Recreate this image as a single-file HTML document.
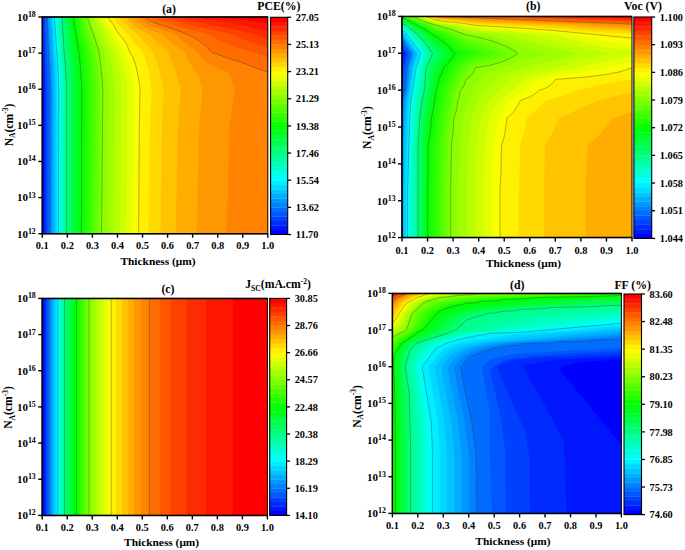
<!DOCTYPE html>
<html><head><meta charset="utf-8"><title>Contour plots</title>
<style>html,body{margin:0;padding:0;background:#fff;}svg{display:block;}</style></head>
<body><svg width="685" height="550" viewBox="0 0 685 550">
<rect width="685" height="550" fill="#fff"/>
<g><rect x="42.30" y="17.00" width="225.50" height="216.70" fill="#0000ff"/>
<path d="M42.3 17.0L267.8 17.0L267.8 233.7L43.4 233.7L43.2 89.5L42.3 56.5L42.3 17.0Z" fill="#0016ff" fill-rule="evenodd"/>
<path d="M42.4 17.0L267.8 17.0L267.8 233.7L44.6 233.7L44.6 89.5L42.4 17.0Z" fill="#002bff" fill-rule="evenodd"/>
<path d="M43.6 17.0L267.8 17.0L267.8 233.7L45.9 233.7L45.9 89.5L43.6 17.0Z" fill="#0041ff" fill-rule="evenodd"/>
<path d="M44.7 17.0L267.8 17.0L267.8 233.7L47.2 233.7L47.2 89.0L44.7 17.0Z" fill="#0057ff" fill-rule="evenodd"/>
<path d="M45.9 17.0L267.8 17.0L267.8 233.7L48.4 233.7L48.6 89.0L45.9 17.0Z" fill="#006dff" fill-rule="evenodd"/>
<path d="M47.0 17.0L267.8 17.0L267.8 233.7L49.7 233.7L49.9 89.0L47.0 17.0Z" fill="#0082ff" fill-rule="evenodd"/>
<path d="M48.2 17.0L267.8 17.0L267.8 233.7L51.2 233.7L51.4 89.0L48.2 17.0Z" fill="#0098ff" fill-rule="evenodd"/>
<path d="M49.5 17.0L267.8 17.0L267.8 233.7L52.6 233.7L52.9 89.0L52.3 72.0L49.5 17.0Z" fill="#00aeff" fill-rule="evenodd"/>
<path d="M50.7 17.0L267.8 17.0L267.8 233.7L54.1 233.7L54.3 89.0L53.8 72.0L50.7 17.0Z" fill="#00c3ff" fill-rule="evenodd"/>
<path d="M51.9 17.0L267.8 17.0L267.8 233.7L55.6 233.7L55.8 89.0L55.2 72.0L51.9 17.0Z" fill="#00d9ff" fill-rule="evenodd"/>
<path d="M53.2 17.0L267.8 17.0L267.8 233.7L57.0 233.7L57.3 89.0L56.7 72.0L53.2 17.0Z" fill="#00efff" fill-rule="evenodd"/>
<path d="M54.4 17.0L267.8 17.0L267.8 233.7L58.5 233.7L58.8 89.0L58.2 72.0L54.4 17.0Z" fill="#00fffa" fill-rule="evenodd"/>
<path d="M55.7 17.0L267.8 17.0L267.8 233.7L59.8 233.7L60.1 89.0L59.4 72.0L55.7 17.0Z" fill="#00ffe4" fill-rule="evenodd"/>
<path d="M56.9 17.0L267.8 17.0L267.8 233.7L61.2 233.7L61.4 89.0L60.7 72.0L56.9 17.0Z" fill="#00ffce" fill-rule="evenodd"/>
<path d="M58.2 17.0L267.8 17.0L267.8 233.7L62.5 233.7L62.7 89.0L62.0 72.5L58.2 17.0Z" fill="#00ffb8" fill-rule="evenodd"/>
<path d="M59.5 17.0L267.8 17.0L267.8 233.7L63.9 233.7L64.0 89.0L63.3 72.5L59.5 17.0Z" fill="#00ffa3" fill-rule="evenodd"/>
<path d="M60.7 17.0L267.8 17.0L267.8 233.7L65.2 233.7L65.3 89.0L64.5 72.5L62.8 52.5L60.7 17.0Z" fill="#00ff8d" fill-rule="evenodd"/>
<path d="M62.0 17.0L267.8 17.0L267.8 233.7L66.6 233.7L66.6 89.0L65.5 66.5L64.1 52.5L62.0 17.0Z" fill="#00ff77" fill-rule="evenodd"/>
<path d="M63.8 17.0L267.8 17.0L267.8 233.7L69.0 233.7L69.1 89.0L68.3 72.5L63.8 17.0Z" fill="#00ff62" fill-rule="evenodd"/>
<path d="M65.6 17.0L267.8 17.0L267.8 233.7L71.5 233.7L71.6 89.0L70.7 72.0L65.6 17.0Z" fill="#00ff4c" fill-rule="evenodd"/>
<path d="M67.5 17.0L267.8 17.0L267.8 233.7L74.0 233.7L74.2 89.0L73.3 72.5L71.5 52.5L67.5 17.0Z" fill="#00ff36" fill-rule="evenodd"/>
<path d="M69.3 17.0L267.8 17.0L267.8 233.7L76.4 233.7L76.7 89.0L75.8 72.5L74.0 52.5L69.3 17.0Z" fill="#00ff21" fill-rule="evenodd"/>
<path d="M71.1 17.0L267.8 17.0L267.8 233.7L78.9 233.7L79.2 89.0L78.3 72.5L76.5 52.5L71.1 17.0Z" fill="#00ff0b" fill-rule="evenodd"/>
<path d="M73.0 17.0L267.8 17.0L267.8 233.7L81.4 233.7L81.8 89.0L80.5 68.5L79.0 52.5L73.0 17.0Z" fill="#0bff00" fill-rule="evenodd"/>
<path d="M75.3 17.0L267.8 17.0L267.8 233.7L84.7 233.7L85.2 89.0L84.2 72.5L82.3 52.5L75.3 17.0Z" fill="#21ff00" fill-rule="evenodd"/>
<path d="M77.7 17.0L267.8 17.0L267.8 233.7L88.1 233.7L88.8 89.0L87.7 72.5L85.6 52.5L77.7 17.0Z" fill="#36ff00" fill-rule="evenodd"/>
<path d="M80.0 17.0L267.8 17.0L267.8 233.7L91.4 233.7L92.3 89.0L91.2 72.5L89.0 52.5L80.0 17.0Z" fill="#4cff00" fill-rule="evenodd"/>
<path d="M82.3 17.0L267.8 17.0L267.8 233.7L94.8 233.7L95.8 89.0L94.6 72.5L92.3 52.5L82.3 17.0Z" fill="#62ff00" fill-rule="evenodd"/>
<path d="M84.7 17.0L267.8 17.0L267.8 233.7L98.2 233.7L99.3 89.0L98.1 72.5L95.7 52.5L84.7 17.0Z" fill="#77ff00" fill-rule="evenodd"/>
<path d="M87.1 17.0L267.8 17.0L267.8 233.7L101.6 233.7L102.9 89.5L102.4 81.5L100.7 64.0L99.1 52.5L95.7 41.0L87.1 17.0Z" fill="#8dff00" fill-rule="evenodd"/>
<path d="M90.4 17.0L267.8 17.0L267.8 233.7L107.7 233.7L109.0 89.0L107.5 72.5L104.2 52.5L100.5 43.5L97.3 34.0L93.6 26.0L90.4 17.0Z" fill="#a3ff00" fill-rule="evenodd"/>
<path d="M93.7 17.0L267.8 17.0L267.8 233.7L113.9 233.7L115.2 89.0L113.4 72.5L109.3 52.5L105.3 43.7L101.6 34.0L97.4 26.0L93.7 17.0Z" fill="#b8ff00" fill-rule="evenodd"/>
<path d="M97.0 17.0L267.8 17.0L267.8 233.7L120.1 233.7L121.4 89.0L119.3 72.5L114.5 52.5L109.9 43.5L105.8 34.0L101.2 26.0L97.0 17.0Z" fill="#ceff00" fill-rule="evenodd"/>
<path d="M100.4 17.0L267.8 17.0L267.8 233.7L126.2 233.7L127.6 89.0L125.2 72.5L119.6 52.5L114.5 43.5L110.1 34.0L104.9 26.0L100.4 17.0Z" fill="#e4ff00" fill-rule="evenodd"/>
<path d="M103.7 17.0L267.8 17.0L267.8 233.7L132.4 233.7L133.1 125.0L133.7 89.0L131.2 72.5L124.7 52.5L121.8 47.0L118.3 41.9L113.2 32.0L106.8 22.9L103.7 17.0Z" fill="#faff00" fill-rule="evenodd"/>
<path d="M107.1 17.0L267.8 17.0L267.8 233.7L138.6 233.7L139.3 125.0L140.0 89.5L139.1 81.5L136.0 66.5L134.4 61.0L132.3 56.1L129.8 52.4L126.7 44.5L123.3 39.0L118.8 34.1L112.8 23.9L107.1 17.0Z" fill="#ffef00" fill-rule="evenodd"/>
<path d="M113.2 17.0L267.8 17.0L267.8 233.7L148.4 233.7L150.1 125.0L151.6 89.5L149.1 72.5L143.5 52.5L135.3 44.4L131.7 39.5L128.6 34.0L123.5 30.0L119.1 25.5L113.2 17.0Z" fill="#ffd900" fill-rule="evenodd"/>
<path d="M119.3 17.0L267.8 17.0L267.8 233.7L160.5 233.7L162.1 125.0L163.6 89.5L162.4 82.5L158.2 65.5L153.4 52.5L145.6 43.0L137.3 34.0L131.8 30.0L126.6 25.5L122.8 21.5L119.3 17.0Z" fill="#ffc300" fill-rule="evenodd"/>
<path d="M125.4 17.0L267.8 17.0L267.8 233.7L175.7 233.7L178.1 125.0L180.6 89.0L176.2 72.5L168.3 52.5L158.2 43.5L148.5 34.0L142.8 31.4L137.3 28.2L131.1 23.0L125.4 17.0Z" fill="#ffae00" fill-rule="evenodd"/>
<path d="M131.6 17.0L267.8 17.0L267.8 233.7L196.4 233.7L199.2 125.0L202.3 89.5L201.0 84.5L198.8 78.0L196.3 72.5L192.8 68.1L189.8 63.5L184.5 52.5L172.7 44.0L162.1 34.0L150.8 30.3L143.8 26.9L137.3 22.4L131.6 17.0Z" fill="#ff9800" fill-rule="evenodd"/>
<path d="M137.7 17.0L267.8 17.0L267.8 233.7L226.1 233.7L227.9 193.0L229.3 125.0L232.2 109.5L234.6 89.5L231.8 81.0L228.3 72.5L211.8 65.6L208.5 63.5L202.8 58.5L196.9 51.5L182.1 40.5L174.5 34.0L150.8 25.8L143.8 22.0L137.7 17.0Z" fill="#ff8200" fill-rule="evenodd"/>
<path d="M143.8 17.0L267.8 17.0L267.8 72.4L243.3 63.2L211.8 52.5L207.1 47.5L202.3 43.3L196.8 39.4L191.0 36.0L181.6 32.0L151.3 21.6L143.8 17.0Z" fill="#ff6d00" fill-rule="evenodd"/>
<path d="M151.1 17.0L267.8 17.0L267.8 57.2L254.6 52.5L240.8 49.1L229.3 45.2L218.3 40.1L209.0 34.0L186.8 29.1L162.8 21.3L151.1 17.0Z" fill="#ff5700" fill-rule="evenodd"/>
<path d="M163.1 17.0L267.8 17.0L267.8 47.1L257.3 44.3L247.8 41.3L238.8 37.7L231.2 34.0L186.8 24.2L163.1 17.0Z" fill="#ff4100" fill-rule="evenodd"/>
<path d="M178.1 17.0L267.8 17.0L267.8 39.2L253.3 34.0L244.8 31.7L197.3 21.9L178.1 17.0Z" fill="#ff2b00" fill-rule="evenodd"/>
<path d="M197.1 17.0L267.8 17.0L267.8 31.5L247.3 26.3L219.8 21.8L197.1 17.0Z" fill="#ff1600" fill-rule="evenodd"/>
<path d="M220.1 17.0L267.8 17.0L267.8 24.1L246.3 20.2L220.1 17.0Z" fill="#ff0000" fill-rule="evenodd"/>
<path d="M49.7 233.7L49.9 89.0L47.0 17.0" fill="none" stroke="#333" stroke-opacity="0.6" stroke-width="0.6"/>
<path d="M58.5 233.7L58.8 89.0L58.2 72.0L54.4 17.0" fill="none" stroke="#333" stroke-opacity="0.6" stroke-width="0.6"/>
<path d="M66.6 233.7L66.6 89.0L65.5 66.5L64.1 52.5L62.0 17.0" fill="none" stroke="#333" stroke-opacity="0.6" stroke-width="0.6"/>
<path d="M81.4 233.7L81.8 89.0L80.5 68.5L79.0 52.5L73.0 17.0" fill="none" stroke="#333" stroke-opacity="0.6" stroke-width="0.6"/>
<path d="M101.6 233.7L102.9 89.5L102.4 81.5L100.7 64.0L99.1 52.5L95.7 41.0L87.1 17.0" fill="none" stroke="#333" stroke-opacity="0.6" stroke-width="0.6"/>
<path d="M138.6 233.7L139.3 125.0L140.0 89.5L139.1 81.5L136.0 66.5L134.4 61.0L132.3 56.1L129.8 52.4L126.7 44.5L123.3 39.0L118.8 34.1L112.8 23.9L107.1 17.0" fill="none" stroke="#333" stroke-opacity="0.6" stroke-width="0.6"/>
<path d="M267.8 72.4L243.3 63.2L211.8 52.5L207.1 47.5L202.3 43.3L196.8 39.4L191.0 36.0L181.6 32.0L151.3 21.6L143.8 17.0" fill="none" stroke="#333" stroke-opacity="0.6" stroke-width="0.6"/></g>
<rect x="42.30" y="17.00" width="225.50" height="216.70" fill="none" stroke="#000" stroke-width="1"/>
<path d="M42.30 16.30 L42.30 233.70 L267.80 233.70" fill="none" stroke="#000" stroke-width="1.5"/>
<path d="M42.30 17.00 L267.80 17.00" fill="none" stroke="#000" stroke-width="1.5"/>
<path d="M38.30 233.70 L42.30 233.70" stroke="#000" stroke-width="1.4"/>
<text x="35.80" y="237.60" font-size="11.00" text-anchor="end" font-family="Liberation Serif" font-weight="bold">10<tspan font-size="7.9" dy="-3.9">12</tspan></text>
<path d="M38.30 197.58 L42.30 197.58" stroke="#000" stroke-width="1.4"/>
<text x="35.80" y="201.48" font-size="11.00" text-anchor="end" font-family="Liberation Serif" font-weight="bold">10<tspan font-size="7.9" dy="-3.9">13</tspan></text>
<path d="M38.30 161.47 L42.30 161.47" stroke="#000" stroke-width="1.4"/>
<text x="35.80" y="165.37" font-size="11.00" text-anchor="end" font-family="Liberation Serif" font-weight="bold">10<tspan font-size="7.9" dy="-3.9">14</tspan></text>
<path d="M38.30 125.35 L42.30 125.35" stroke="#000" stroke-width="1.4"/>
<text x="35.80" y="129.25" font-size="11.00" text-anchor="end" font-family="Liberation Serif" font-weight="bold">10<tspan font-size="7.9" dy="-3.9">15</tspan></text>
<path d="M38.30 89.23 L42.30 89.23" stroke="#000" stroke-width="1.4"/>
<text x="35.80" y="93.13" font-size="11.00" text-anchor="end" font-family="Liberation Serif" font-weight="bold">10<tspan font-size="7.9" dy="-3.9">16</tspan></text>
<path d="M38.30 53.12 L42.30 53.12" stroke="#000" stroke-width="1.4"/>
<text x="35.80" y="57.02" font-size="11.00" text-anchor="end" font-family="Liberation Serif" font-weight="bold">10<tspan font-size="7.9" dy="-3.9">17</tspan></text>
<path d="M38.30 17.00 L42.30 17.00" stroke="#000" stroke-width="1.4"/>
<text x="35.80" y="20.90" font-size="11.00" text-anchor="end" font-family="Liberation Serif" font-weight="bold">10<tspan font-size="7.9" dy="-3.9">18</tspan></text>
<path d="M42.30 233.70 L42.30 237.70" stroke="#000" stroke-width="1.4"/>
<text x="42.30" y="249.10" font-size="10.40" text-anchor="middle" font-family="Liberation Serif" font-weight="bold">0.1</text>
<path d="M67.36 233.70 L67.36 237.70" stroke="#000" stroke-width="1.4"/>
<text x="67.36" y="249.10" font-size="10.40" text-anchor="middle" font-family="Liberation Serif" font-weight="bold">0.2</text>
<path d="M92.41 233.70 L92.41 237.70" stroke="#000" stroke-width="1.4"/>
<text x="92.41" y="249.10" font-size="10.40" text-anchor="middle" font-family="Liberation Serif" font-weight="bold">0.3</text>
<path d="M117.47 233.70 L117.47 237.70" stroke="#000" stroke-width="1.4"/>
<text x="117.47" y="249.10" font-size="10.40" text-anchor="middle" font-family="Liberation Serif" font-weight="bold">0.4</text>
<path d="M142.52 233.70 L142.52 237.70" stroke="#000" stroke-width="1.4"/>
<text x="142.52" y="249.10" font-size="10.40" text-anchor="middle" font-family="Liberation Serif" font-weight="bold">0.5</text>
<path d="M167.58 233.70 L167.58 237.70" stroke="#000" stroke-width="1.4"/>
<text x="167.58" y="249.10" font-size="10.40" text-anchor="middle" font-family="Liberation Serif" font-weight="bold">0.6</text>
<path d="M192.63 233.70 L192.63 237.70" stroke="#000" stroke-width="1.4"/>
<text x="192.63" y="249.10" font-size="10.40" text-anchor="middle" font-family="Liberation Serif" font-weight="bold">0.7</text>
<path d="M217.69 233.70 L217.69 237.70" stroke="#000" stroke-width="1.4"/>
<text x="217.69" y="249.10" font-size="10.40" text-anchor="middle" font-family="Liberation Serif" font-weight="bold">0.8</text>
<path d="M242.74 233.70 L242.74 237.70" stroke="#000" stroke-width="1.4"/>
<text x="242.74" y="249.10" font-size="10.40" text-anchor="middle" font-family="Liberation Serif" font-weight="bold">0.9</text>
<path d="M267.80 233.70 L267.80 237.70" stroke="#000" stroke-width="1.4"/>
<text x="267.80" y="249.10" font-size="10.40" text-anchor="middle" font-family="Liberation Serif" font-weight="bold">1.0</text>
<text x="158.00" y="264.50" font-size="11.40" text-anchor="middle" font-family="Liberation Serif" font-weight="bold">Thickness (μm)</text>
<text transform="translate(12.70 125.00) rotate(-90)" x="0" y="0" font-size="11.6" text-anchor="middle" font-family="Liberation Serif" font-weight="bold">N<tspan font-size="7.6" dy="2.6">A</tspan><tspan dy="-2.6">(cm</tspan><tspan font-size="7.6" dy="-4.6">-3</tspan><tspan dy="4.6">)</tspan></text>
<text x="162.20" y="12.90" font-size="11.80" text-anchor="start" font-family="Liberation Serif" font-weight="bold">(a)</text>
<rect x="270.60" y="229.97" width="17.10" height="4.82" fill="#0000ff"/>
<rect x="270.60" y="225.45" width="17.10" height="4.82" fill="#0016ff"/>
<rect x="270.60" y="220.93" width="17.10" height="4.82" fill="#002bff"/>
<rect x="270.60" y="216.40" width="17.10" height="4.82" fill="#0041ff"/>
<rect x="270.60" y="211.88" width="17.10" height="4.82" fill="#0057ff"/>
<rect x="270.60" y="207.35" width="17.10" height="4.82" fill="#006dff"/>
<rect x="270.60" y="202.82" width="17.10" height="4.82" fill="#0082ff"/>
<rect x="270.60" y="198.30" width="17.10" height="4.82" fill="#0098ff"/>
<rect x="270.60" y="193.78" width="17.10" height="4.82" fill="#00aeff"/>
<rect x="270.60" y="189.25" width="17.10" height="4.82" fill="#00c3ff"/>
<rect x="270.60" y="184.73" width="17.10" height="4.82" fill="#00d9ff"/>
<rect x="270.60" y="180.20" width="17.10" height="4.82" fill="#00efff"/>
<rect x="270.60" y="175.68" width="17.10" height="4.82" fill="#00fffa"/>
<rect x="270.60" y="171.15" width="17.10" height="4.82" fill="#00ffe4"/>
<rect x="270.60" y="166.62" width="17.10" height="4.82" fill="#00ffce"/>
<rect x="270.60" y="162.10" width="17.10" height="4.82" fill="#00ffb8"/>
<rect x="270.60" y="157.57" width="17.10" height="4.82" fill="#00ffa3"/>
<rect x="270.60" y="153.05" width="17.10" height="4.82" fill="#00ff8d"/>
<rect x="270.60" y="148.53" width="17.10" height="4.82" fill="#00ff77"/>
<rect x="270.60" y="144.00" width="17.10" height="4.82" fill="#00ff62"/>
<rect x="270.60" y="139.48" width="17.10" height="4.82" fill="#00ff4c"/>
<rect x="270.60" y="134.95" width="17.10" height="4.82" fill="#00ff36"/>
<rect x="270.60" y="130.43" width="17.10" height="4.82" fill="#00ff21"/>
<rect x="270.60" y="125.90" width="17.10" height="4.82" fill="#00ff0b"/>
<rect x="270.60" y="121.38" width="17.10" height="4.82" fill="#0bff00"/>
<rect x="270.60" y="116.85" width="17.10" height="4.82" fill="#21ff00"/>
<rect x="270.60" y="112.33" width="17.10" height="4.82" fill="#36ff00"/>
<rect x="270.60" y="107.80" width="17.10" height="4.82" fill="#4cff00"/>
<rect x="270.60" y="103.28" width="17.10" height="4.82" fill="#62ff00"/>
<rect x="270.60" y="98.75" width="17.10" height="4.82" fill="#77ff00"/>
<rect x="270.60" y="94.23" width="17.10" height="4.82" fill="#8dff00"/>
<rect x="270.60" y="89.70" width="17.10" height="4.82" fill="#a3ff00"/>
<rect x="270.60" y="85.18" width="17.10" height="4.82" fill="#b8ff00"/>
<rect x="270.60" y="80.65" width="17.10" height="4.82" fill="#ceff00"/>
<rect x="270.60" y="76.13" width="17.10" height="4.82" fill="#e4ff00"/>
<rect x="270.60" y="71.60" width="17.10" height="4.82" fill="#faff00"/>
<rect x="270.60" y="67.08" width="17.10" height="4.82" fill="#ffef00"/>
<rect x="270.60" y="62.55" width="17.10" height="4.82" fill="#ffd900"/>
<rect x="270.60" y="58.03" width="17.10" height="4.82" fill="#ffc300"/>
<rect x="270.60" y="53.50" width="17.10" height="4.82" fill="#ffae00"/>
<rect x="270.60" y="48.98" width="17.10" height="4.82" fill="#ff9800"/>
<rect x="270.60" y="44.45" width="17.10" height="4.82" fill="#ff8200"/>
<rect x="270.60" y="39.93" width="17.10" height="4.82" fill="#ff6d00"/>
<rect x="270.60" y="35.40" width="17.10" height="4.82" fill="#ff5700"/>
<rect x="270.60" y="30.88" width="17.10" height="4.82" fill="#ff4100"/>
<rect x="270.60" y="26.35" width="17.10" height="4.82" fill="#ff2b00"/>
<rect x="270.60" y="21.83" width="17.10" height="4.82" fill="#ff1600"/>
<rect x="270.60" y="17.30" width="17.10" height="4.82" fill="#ff0000"/>
<rect x="270.60" y="17.30" width="17.10" height="217.20" fill="none" stroke="#000" stroke-width="1.1"/>
<path d="M287.70 17.30 L291.10 17.30" stroke="#000" stroke-width="1.3"/>
<text x="295.80" y="21.00" font-size="10.30" text-anchor="start" font-family="Liberation Serif" font-weight="bold">27.05</text>
<path d="M287.70 44.45 L291.10 44.45" stroke="#000" stroke-width="1.3"/>
<text x="295.80" y="48.15" font-size="10.30" text-anchor="start" font-family="Liberation Serif" font-weight="bold">25.13</text>
<path d="M287.70 71.60 L291.10 71.60" stroke="#000" stroke-width="1.3"/>
<text x="295.80" y="75.30" font-size="10.30" text-anchor="start" font-family="Liberation Serif" font-weight="bold">23.21</text>
<path d="M287.70 98.75 L291.10 98.75" stroke="#000" stroke-width="1.3"/>
<text x="295.80" y="102.45" font-size="10.30" text-anchor="start" font-family="Liberation Serif" font-weight="bold">21.29</text>
<path d="M287.70 125.90 L291.10 125.90" stroke="#000" stroke-width="1.3"/>
<text x="295.80" y="129.60" font-size="10.30" text-anchor="start" font-family="Liberation Serif" font-weight="bold">19.38</text>
<path d="M287.70 153.05 L291.10 153.05" stroke="#000" stroke-width="1.3"/>
<text x="295.80" y="156.75" font-size="10.30" text-anchor="start" font-family="Liberation Serif" font-weight="bold">17.46</text>
<path d="M287.70 180.20 L291.10 180.20" stroke="#000" stroke-width="1.3"/>
<text x="295.80" y="183.90" font-size="10.30" text-anchor="start" font-family="Liberation Serif" font-weight="bold">15.54</text>
<path d="M287.70 207.35 L291.10 207.35" stroke="#000" stroke-width="1.3"/>
<text x="295.80" y="211.05" font-size="10.30" text-anchor="start" font-family="Liberation Serif" font-weight="bold">13.62</text>
<path d="M287.70 234.50 L291.10 234.50" stroke="#000" stroke-width="1.3"/>
<text x="295.80" y="238.20" font-size="10.30" text-anchor="start" font-family="Liberation Serif" font-weight="bold">11.70</text>
<text x="278.90" y="10.10" font-size="11.80" text-anchor="middle" font-family="Liberation Serif" font-weight="bold">PCE(%)</text>
<g><rect x="402.00" y="16.40" width="230.00" height="221.20" fill="#0000ff"/>
<path d="M402.0 16.4L632.0 16.4L632.0 237.6L402.0 237.6L402.0 57.2L402.9 53.4L402.0 51.8L402.0 16.4Z" fill="#0016ff" fill-rule="evenodd"/>
<path d="M402.0 16.4L632.0 16.4L632.0 237.6L402.0 237.6L402.0 63.9L404.4 53.4L402.0 49.3L402.0 16.4Z" fill="#002bff" fill-rule="evenodd"/>
<path d="M402.0 16.4L632.0 16.4L632.0 237.6L402.0 237.6L402.0 73.5L402.6 67.9L406.0 53.4L402.0 46.8L402.0 16.4Z" fill="#0041ff" fill-rule="evenodd"/>
<path d="M402.0 16.4L632.0 16.4L632.0 237.6L402.0 237.6L402.0 86.7L404.1 67.9L407.6 53.4L402.0 44.2L402.0 16.4Z" fill="#0057ff" fill-rule="evenodd"/>
<path d="M402.0 16.4L632.0 16.4L632.0 237.6L402.0 237.6L402.0 95.1L403.4 90.4L405.6 67.9L409.1 53.4L402.0 41.7L402.0 16.4Z" fill="#006dff" fill-rule="evenodd"/>
<path d="M402.0 16.4L632.0 16.4L632.0 237.6L402.0 237.6L402.0 104.7L402.3 100.4L405.2 90.4L407.1 67.9L410.7 53.4L406.0 46.4L402.0 39.2L402.0 16.4Z" fill="#0082ff" fill-rule="evenodd"/>
<path d="M402.0 16.4L632.0 16.4L632.0 237.6L402.0 237.6L402.0 131.8L402.7 117.4L403.7 100.4L406.5 90.4L408.6 67.9L412.3 53.4L406.8 45.4L402.0 36.6L402.0 16.4Z" fill="#0098ff" fill-rule="evenodd"/>
<path d="M402.0 16.4L632.0 16.4L632.0 237.6L402.0 237.6L402.0 176.7L402.8 144.9L405.2 100.4L407.7 90.4L410.1 67.9L414.0 53.4L407.0 43.4L402.0 34.5L402.0 16.4Z" fill="#00aeff" fill-rule="evenodd"/>
<path d="M402.0 16.4L632.0 16.4L632.0 237.6L403.1 237.6L403.1 189.9L404.3 144.9L406.6 100.4L408.9 90.4L411.6 67.9L415.7 53.4L407.0 41.2L403.6 34.9L402.0 33.2L402.0 16.4Z" fill="#00c3ff" fill-rule="evenodd"/>
<path d="M402.0 16.4L632.0 16.4L632.0 237.6L404.6 237.6L404.6 189.9L405.9 144.9L406.9 117.9L408.1 100.4L410.1 90.4L413.2 67.9L417.3 53.4L407.0 38.9L404.8 34.9L402.0 32.0L402.0 16.4Z" fill="#00d9ff" fill-rule="evenodd"/>
<path d="M402.0 16.4L632.0 16.4L632.0 237.6L406.1 237.6L406.1 189.9L408.4 117.9L409.5 100.4L414.7 67.9L419.0 53.4L406.0 34.9L402.0 30.8L402.0 16.4Z" fill="#00efff" fill-rule="evenodd"/>
<path d="M402.0 16.4L632.0 16.4L632.0 237.6L407.6 237.6L407.6 189.9L409.8 117.9L411.0 100.4L416.2 67.9L420.7 53.4L409.0 37.0L405.5 32.9L402.0 29.6L402.0 16.4Z" fill="#00fffa" fill-rule="evenodd"/>
<path d="M402.0 16.4L632.0 16.4L632.0 237.6L409.3 237.6L409.3 189.9L410.4 144.9L411.5 117.2L412.8 100.4L417.8 67.9L422.6 53.4L409.1 34.9L402.0 28.4L402.0 16.4Z" fill="#00ffe4" fill-rule="evenodd"/>
<path d="M402.0 16.4L632.0 16.4L632.0 237.6L411.1 237.6L411.1 189.9L411.9 144.9L413.2 117.4L414.7 100.4L416.7 88.9L419.5 67.9L424.6 53.4L411.0 34.9L402.0 27.2L402.0 16.4Z" fill="#00ffce" fill-rule="evenodd"/>
<path d="M402.0 16.4L632.0 16.4L632.0 237.6L412.8 237.6L412.8 189.9L413.4 145.4L414.8 117.9L416.5 100.4L418.5 90.4L421.1 67.9L426.6 53.4L412.8 34.9L402.0 26.0L402.0 16.4Z" fill="#00ffb8" fill-rule="evenodd"/>
<path d="M402.0 16.4L632.0 16.4L632.0 237.6L414.5 237.6L415.0 145.4L416.5 117.9L418.3 100.4L420.4 90.4L422.7 67.9L425.4 60.4L428.5 53.4L424.5 47.5L414.7 34.9L404.5 26.6L402.0 24.9L402.0 16.4Z" fill="#00ffa3" fill-rule="evenodd"/>
<path d="M402.0 16.4L632.0 16.4L632.0 237.6L416.3 237.6L416.5 144.9L418.1 117.9L420.2 100.4L422.4 90.4L424.4 67.9L430.5 53.4L425.4 45.9L416.5 34.9L405.3 25.9L402.0 24.0L402.0 16.4Z" fill="#00ff8d" fill-rule="evenodd"/>
<path d="M402.0 16.4L632.0 16.4L632.0 237.6L418.0 237.6L418.0 144.9L419.8 117.9L422.0 100.4L424.4 90.4L426.0 67.9L429.5 61.4L432.5 53.4L426.0 43.9L418.4 34.9L406.4 25.4L402.0 23.0L402.0 16.4Z" fill="#00ff77" fill-rule="evenodd"/>
<path d="M402.0 16.4L632.0 16.4L632.0 237.6L419.6 237.6L419.7 144.9L421.7 117.9L424.1 100.4L426.3 90.4L427.4 78.4L428.9 67.9L432.5 59.8L436.2 53.4L432.5 50.2L427.0 42.4L420.8 34.9L408.3 25.4L402.0 22.1L402.0 16.4Z" fill="#00ff62" fill-rule="evenodd"/>
<path d="M402.0 16.4L632.0 16.4L632.0 237.6L421.2 237.6L421.3 144.9L423.7 117.9L426.1 100.4L428.3 90.4L429.8 78.4L431.8 67.9L435.5 60.4L439.9 53.4L432.5 47.0L423.2 34.9L417.5 31.2L410.1 25.4L402.0 21.1L402.0 16.4Z" fill="#00ff4c" fill-rule="evenodd"/>
<path d="M402.0 16.4L632.0 16.4L632.0 237.6L422.8 237.6L423.0 144.9L425.6 117.9L428.2 100.4L432.1 78.9L434.3 69.4L434.9 67.4L438.0 61.7L443.7 53.4L439.0 49.0L432.5 43.9L425.6 34.9L417.5 29.8L412.0 25.4L402.0 20.1L402.0 16.4Z" fill="#00ff36" fill-rule="evenodd"/>
<path d="M402.0 16.4L632.0 16.4L632.0 237.6L424.4 237.6L424.7 144.9L427.6 117.9L433.0 85.4L436.3 71.9L437.6 67.9L440.0 63.7L443.5 58.3L447.4 53.4L441.0 47.2L432.5 40.8L427.4 34.4L417.5 28.3L413.8 25.4L402.0 19.2L402.0 16.4Z" fill="#00ff21" fill-rule="evenodd"/>
<path d="M402.0 16.4L632.0 16.4L632.0 237.6L426.0 237.6L426.3 144.9L429.6 117.4L434.4 88.9L438.3 73.9L440.5 67.9L442.5 64.6L448.0 57.9L451.2 53.4L444.5 46.5L439.0 42.1L433.0 38.1L430.4 34.9L428.5 33.4L414.0 24.4L402.0 18.2L402.0 16.4Z" fill="#00ff0b" fill-rule="evenodd"/>
<path d="M402.0 16.4L632.0 16.4L632.0 237.6L427.7 237.6L428.0 145.3L430.1 133.4L431.5 117.8L433.2 109.9L436.0 90.6L437.8 85.4L439.0 79.3L441.5 74.1L443.5 67.9L450.0 60.9L454.9 53.4L448.5 46.3L440.0 39.4L432.5 34.6L425.2 29.4L402.0 17.2L402.0 16.4Z" fill="#0bff00" fill-rule="evenodd"/>
<path d="M402.3 16.4L632.0 16.4L632.0 237.6L431.4 237.6L431.4 189.9L431.9 144.9L435.2 117.9L439.9 90.9L443.6 78.9L448.7 67.9L455.6 59.4L460.0 56.2L465.3 53.4L455.0 48.7L447.5 41.4L438.4 34.9L433.0 32.9L424.0 27.0L417.5 24.3L402.3 16.4Z" fill="#21ff00" fill-rule="evenodd"/>
<path d="M404.4 16.4L632.0 16.4L632.0 237.6L435.3 237.6L435.3 189.9L435.8 144.9L439.0 117.9L444.0 90.4L448.6 77.9L452.5 70.4L455.5 66.0L459.5 62.1L464.0 58.8L469.4 55.9L475.7 53.4L465.0 49.3L457.0 45.3L455.0 44.1L449.9 39.4L443.9 34.9L433.2 30.9L425.1 25.9L417.5 23.2L404.4 16.4Z" fill="#36ff00" fill-rule="evenodd"/>
<path d="M406.6 16.4L632.0 16.4L632.0 237.6L439.1 237.6L439.1 189.9L439.8 144.9L442.7 117.9L448.0 90.4L453.2 77.9L457.6 70.4L460.7 66.4L465.6 62.4L471.5 58.9L475.0 57.2L486.3 53.4L478.0 49.9L466.0 46.0L457.0 40.9L449.5 34.9L437.0 30.7L433.0 28.8L428.0 25.7L418.0 22.3L406.6 16.4Z" fill="#4cff00" fill-rule="evenodd"/>
<path d="M408.7 16.4L632.0 16.4L632.0 237.6L442.9 237.6L442.9 189.9L443.7 144.9L446.5 117.9L452.0 90.4L457.8 77.9L462.7 70.4L466.0 66.6L470.5 63.4L475.0 60.8L487.0 57.4L496.8 53.4L492.0 50.9L483.5 47.5L466.0 42.3L460.4 38.9L455.0 34.9L437.5 29.1L430.7 25.4L418.0 21.2L408.7 16.4Z" fill="#62ff00" fill-rule="evenodd"/>
<path d="M410.9 16.4L632.0 16.4L632.0 237.6L446.8 237.6L446.8 189.9L447.6 144.9L450.2 117.9L456.0 90.4L462.0 78.4L466.0 72.7L469.9 67.9L471.1 66.9L475.5 64.2L486.5 61.7L496.0 58.8L502.0 56.3L507.3 53.4L501.0 49.7L492.2 45.9L480.0 41.9L466.0 38.5L459.4 34.4L438.0 27.4L434.0 25.4L422.5 21.9L418.0 20.1L410.9 16.4Z" fill="#77ff00" fill-rule="evenodd"/>
<path d="M413.0 16.4L632.0 16.4L632.0 237.6L450.7 237.6L450.7 189.9L451.5 144.9L453.0 134.0L454.0 117.8L456.5 110.3L458.0 100.4L459.4 95.9L460.0 90.7L462.4 88.4L463.7 86.4L465.0 83.4L466.0 79.3L469.5 77.2L471.8 74.9L473.5 72.3L475.3 67.9L490.5 65.2L501.5 62.1L510.5 58.3L517.9 53.4L514.0 50.5L508.5 47.4L496.5 42.3L482.5 38.2L466.0 34.8L449.5 29.0L425.5 22.0L419.0 19.4L413.0 16.4Z" fill="#8dff00" fill-rule="evenodd"/>
<path d="M415.2 16.4L632.0 16.4L632.0 237.6L458.8 237.6L458.8 189.9L459.8 144.9L462.9 117.4L467.0 104.2L470.7 94.9L475.1 87.4L480.8 79.4L485.0 75.7L490.5 72.3L498.1 68.9L510.5 65.3L518.0 62.2L548.5 53.4L518.0 45.5L507.0 40.3L493.5 36.1L488.5 34.9L466.0 32.7L445.6 25.9L437.5 24.6L429.0 22.2L422.0 19.6L415.2 16.4Z" fill="#a3ff00" fill-rule="evenodd"/>
<path d="M417.3 16.4L632.0 16.4L632.0 237.6L467.1 237.6L467.1 189.9L468.2 144.9L471.6 117.9L475.0 108.9L478.7 100.4L483.0 94.3L495.7 79.4L502.9 75.4L509.0 72.9L516.0 70.6L527.0 67.9L555.6 59.4L579.4 53.4L557.0 48.5L541.0 44.6L524.9 39.9L510.3 34.9L477.0 32.3L466.0 30.5L450.5 25.5L438.5 24.0L434.3 22.9L425.5 20.0L417.3 16.4Z" fill="#b8ff00" fill-rule="evenodd"/>
<path d="M419.5 16.4L632.0 16.4L632.0 237.6L475.3 237.6L475.3 189.9L476.5 144.9L480.5 117.9L484.5 109.0L489.1 100.4L493.5 95.6L499.6 90.4L510.6 79.4L516.2 76.9L531.5 72.1L541.5 69.9L552.9 67.9L581.5 60.1L610.3 53.4L585.0 48.5L567.0 44.6L549.0 40.0L532.3 34.9L476.0 30.4L466.0 28.4L456.6 25.4L437.5 23.0L426.5 19.5L419.5 16.4Z" fill="#ceff00" fill-rule="evenodd"/>
<path d="M421.7 16.4L632.0 16.4L632.0 51.2L594.4 44.9L573.5 40.1L554.3 34.9L520.0 31.9L477.0 28.9L463.2 25.4L438.0 22.3L428.5 19.2L421.7 16.4ZM631.4 55.4L632.0 55.3L632.0 237.6L483.5 237.6L483.5 189.9L484.8 144.9L489.3 117.9L494.0 109.0L499.5 100.4L505.5 95.3L512.8 90.4L519.0 84.7L525.5 79.4L528.5 78.2L537.0 75.6L546.5 73.2L555.5 71.4L579.2 67.9L605.0 61.3L631.4 55.4Z" fill="#e4ff00" fill-rule="evenodd"/>
<path d="M423.8 16.4L632.0 16.4L632.0 44.7L598.0 40.2L576.4 34.9L572.1 34.4L528.0 30.5L477.0 27.2L469.8 25.4L463.5 24.4L440.0 21.9L432.0 19.6L423.8 16.4ZM630.4 61.9L632.0 61.5L632.0 237.6L491.8 237.6L491.8 189.9L493.2 144.9L498.1 117.9L503.5 109.1L509.8 100.4L517.5 95.1L525.9 90.4L535.4 82.9L540.4 79.4L541.7 78.9L555.5 75.3L577.0 73.1L594.5 70.3L630.4 61.9Z" fill="#faff00" fill-rule="evenodd"/>
<path d="M426.0 16.4L632.0 16.4L632.0 38.2L552.5 30.4L516.0 27.8L477.0 25.5L461.0 23.1L440.0 21.1L434.0 19.4L426.0 16.4ZM631.8 67.9L632.0 237.6L500.0 237.6L500.0 189.9L500.9 172.9L501.5 144.9L503.3 139.9L504.8 133.9L507.0 117.9L511.5 114.0L514.7 110.4L517.5 106.1L520.3 100.4L530.0 96.8L535.0 93.9L539.0 90.5L544.0 88.8L547.9 86.9L552.0 83.8L555.5 79.4L585.0 77.1L603.9 74.9L619.5 71.9L631.8 67.9Z" fill="#ffef00" fill-rule="evenodd"/>
<path d="M428.3 16.4L632.0 16.4L632.0 33.7L598.0 32.3L562.0 29.1L521.5 26.2L477.0 24.2L460.5 22.0L440.0 20.3L428.3 16.4ZM631.9 78.9L632.0 237.6L518.9 237.6L518.9 189.9L520.5 144.9L523.8 132.4L527.0 117.7L536.9 109.4L545.5 100.4L562.0 95.9L576.2 90.4L604.0 84.2L631.9 78.9Z" fill="#ffd900" fill-rule="evenodd"/>
<path d="M430.7 16.4L632.0 16.4L632.0 31.6L598.0 29.8L568.0 27.3L539.0 25.4L477.0 23.0L460.5 21.0L440.0 19.5L430.7 16.4ZM631.9 92.4L632.0 237.6L543.9 237.6L543.9 189.9L545.1 145.4L552.8 131.9L559.0 117.9L598.0 100.5L631.9 92.4Z" fill="#ffc300" fill-rule="evenodd"/>
<path d="M433.0 16.4L632.0 16.4L632.0 29.4L571.3 25.4L477.0 21.7L460.5 20.0L440.0 18.7L433.0 16.4ZM630.5 112.4L632.0 111.9L632.0 237.6L585.5 237.6L585.5 189.9L587.6 144.9L594.7 138.9L601.3 132.4L607.3 125.4L612.9 117.9L630.5 112.4Z" fill="#ffae00" fill-rule="evenodd"/>
<path d="M435.3 16.4L632.0 16.4L632.0 27.2L603.6 25.4L477.0 20.4L460.5 19.0L440.0 18.0L435.3 16.4Z" fill="#ff9800" fill-rule="evenodd"/>
<path d="M437.7 16.4L632.0 16.4L632.0 25.2L477.0 19.1L440.0 17.2L437.7 16.4Z" fill="#ff8200" fill-rule="evenodd"/>
<path d="M440.0 16.4L632.0 16.4L632.0 24.0L440.0 16.4Z" fill="#ff6d00" fill-rule="evenodd"/>
<path d="M472.0 16.4L632.0 16.4L632.0 22.7L472.0 16.4Z" fill="#ff5700" fill-rule="evenodd"/>
<path d="M504.0 16.4L632.0 16.4L632.0 21.5L504.0 16.4Z" fill="#ff4100" fill-rule="evenodd"/>
<path d="M536.0 16.4L632.0 16.4L632.0 20.2L536.0 16.4Z" fill="#ff2b00" fill-rule="evenodd"/>
<path d="M568.0 16.4L632.0 16.4L632.0 18.9L568.0 16.4Z" fill="#ff1600" fill-rule="evenodd"/>
<path d="M600.0 16.4L632.0 16.4L632.0 17.7L600.0 16.4Z" fill="#ff0000" fill-rule="evenodd"/>
<path d="M402.0 104.7L402.3 100.4L405.2 90.4L407.1 67.9L410.7 53.4L406.0 46.4L402.0 39.2" fill="none" stroke="#333" stroke-opacity="0.6" stroke-width="0.6"/>
<path d="M407.6 237.6L407.6 189.9L409.8 117.9L411.0 100.4L416.2 67.9L420.7 53.4L409.0 37.0L405.5 32.9L402.0 29.6" fill="none" stroke="#333" stroke-opacity="0.6" stroke-width="0.6"/>
<path d="M418.0 237.6L418.0 144.9L419.8 117.9L422.0 100.4L424.4 90.4L426.0 67.9L429.5 61.4L432.5 53.4L426.0 43.9L418.4 34.9L406.4 25.4L402.0 23.0" fill="none" stroke="#333" stroke-opacity="0.6" stroke-width="0.6"/>
<path d="M427.7 237.6L428.0 145.3L430.1 133.4L431.5 117.8L433.2 109.9L436.0 90.6L437.8 85.4L439.0 79.3L441.5 74.1L443.5 67.9L450.0 60.9L454.9 53.4L448.0 45.8L439.3 38.9L432.5 34.6L424.4 28.9L402.0 17.2" fill="none" stroke="#333" stroke-opacity="0.6" stroke-width="0.6"/>
<path d="M450.7 237.6L450.7 189.9L451.5 144.9L453.0 134.0L454.0 117.8L456.5 110.3L458.0 100.4L459.4 95.9L460.0 90.7L462.4 88.4L463.7 86.4L465.0 83.4L466.0 79.3L469.5 77.2L471.8 74.9L473.5 72.3L475.3 67.9L490.5 65.2L501.5 62.1L510.5 58.3L517.9 53.4L514.0 50.5L508.5 47.4L496.5 42.3L482.5 38.2L466.0 34.8L449.5 29.0L425.5 22.0L419.0 19.4L413.0 16.4" fill="none" stroke="#333" stroke-opacity="0.6" stroke-width="0.6"/>
<path d="M632.0 38.2L552.5 30.4L516.0 27.8L477.0 25.5L461.0 23.1L440.0 21.1L434.0 19.4L426.0 16.4" fill="none" stroke="#333" stroke-opacity="0.6" stroke-width="0.6"/>
<path d="M500.0 237.6L500.0 189.9L500.9 172.9L501.5 144.9L503.3 139.9L504.8 133.9L507.0 117.9L511.5 114.0L514.7 110.4L517.5 106.1L520.3 100.4L530.0 96.8L535.0 93.9L539.0 90.5L544.0 88.8L547.9 86.9L552.0 83.8L555.5 79.4L585.0 77.1L604.0 74.9L619.5 71.9L632.0 67.8" fill="none" stroke="#333" stroke-opacity="0.6" stroke-width="0.6"/>
<path d="M632.0 24.0L440.0 16.4" fill="none" stroke="#333" stroke-opacity="0.6" stroke-width="0.6"/></g>
<rect x="402.00" y="16.40" width="230.00" height="221.20" fill="none" stroke="#000" stroke-width="1"/>
<path d="M402.00 15.70 L402.00 237.60 L632.00 237.60" fill="none" stroke="#000" stroke-width="1.5"/>
<path d="M402.00 16.40 L632.00 16.40" fill="none" stroke="#000" stroke-width="1.5"/>
<path d="M398.00 237.60 L402.00 237.60" stroke="#000" stroke-width="1.4"/>
<text x="395.60" y="241.50" font-size="11.00" text-anchor="end" font-family="Liberation Serif" font-weight="bold">10<tspan font-size="7.9" dy="-3.9">12</tspan></text>
<path d="M398.00 200.73 L402.00 200.73" stroke="#000" stroke-width="1.4"/>
<text x="395.60" y="204.63" font-size="11.00" text-anchor="end" font-family="Liberation Serif" font-weight="bold">10<tspan font-size="7.9" dy="-3.9">13</tspan></text>
<path d="M398.00 163.87 L402.00 163.87" stroke="#000" stroke-width="1.4"/>
<text x="395.60" y="167.77" font-size="11.00" text-anchor="end" font-family="Liberation Serif" font-weight="bold">10<tspan font-size="7.9" dy="-3.9">14</tspan></text>
<path d="M398.00 127.00 L402.00 127.00" stroke="#000" stroke-width="1.4"/>
<text x="395.60" y="130.90" font-size="11.00" text-anchor="end" font-family="Liberation Serif" font-weight="bold">10<tspan font-size="7.9" dy="-3.9">15</tspan></text>
<path d="M398.00 90.13 L402.00 90.13" stroke="#000" stroke-width="1.4"/>
<text x="395.60" y="94.03" font-size="11.00" text-anchor="end" font-family="Liberation Serif" font-weight="bold">10<tspan font-size="7.9" dy="-3.9">16</tspan></text>
<path d="M398.00 53.27 L402.00 53.27" stroke="#000" stroke-width="1.4"/>
<text x="395.60" y="57.17" font-size="11.00" text-anchor="end" font-family="Liberation Serif" font-weight="bold">10<tspan font-size="7.9" dy="-3.9">17</tspan></text>
<path d="M398.00 16.40 L402.00 16.40" stroke="#000" stroke-width="1.4"/>
<text x="395.60" y="20.30" font-size="11.00" text-anchor="end" font-family="Liberation Serif" font-weight="bold">10<tspan font-size="7.9" dy="-3.9">18</tspan></text>
<path d="M402.00 237.60 L402.00 241.60" stroke="#000" stroke-width="1.4"/>
<text x="402.00" y="253.50" font-size="10.40" text-anchor="middle" font-family="Liberation Serif" font-weight="bold">0.1</text>
<path d="M427.56 237.60 L427.56 241.60" stroke="#000" stroke-width="1.4"/>
<text x="427.56" y="253.50" font-size="10.40" text-anchor="middle" font-family="Liberation Serif" font-weight="bold">0.2</text>
<path d="M453.11 237.60 L453.11 241.60" stroke="#000" stroke-width="1.4"/>
<text x="453.11" y="253.50" font-size="10.40" text-anchor="middle" font-family="Liberation Serif" font-weight="bold">0.3</text>
<path d="M478.67 237.60 L478.67 241.60" stroke="#000" stroke-width="1.4"/>
<text x="478.67" y="253.50" font-size="10.40" text-anchor="middle" font-family="Liberation Serif" font-weight="bold">0.4</text>
<path d="M504.22 237.60 L504.22 241.60" stroke="#000" stroke-width="1.4"/>
<text x="504.22" y="253.50" font-size="10.40" text-anchor="middle" font-family="Liberation Serif" font-weight="bold">0.5</text>
<path d="M529.78 237.60 L529.78 241.60" stroke="#000" stroke-width="1.4"/>
<text x="529.78" y="253.50" font-size="10.40" text-anchor="middle" font-family="Liberation Serif" font-weight="bold">0.6</text>
<path d="M555.33 237.60 L555.33 241.60" stroke="#000" stroke-width="1.4"/>
<text x="555.33" y="253.50" font-size="10.40" text-anchor="middle" font-family="Liberation Serif" font-weight="bold">0.7</text>
<path d="M580.89 237.60 L580.89 241.60" stroke="#000" stroke-width="1.4"/>
<text x="580.89" y="253.50" font-size="10.40" text-anchor="middle" font-family="Liberation Serif" font-weight="bold">0.8</text>
<path d="M606.44 237.60 L606.44 241.60" stroke="#000" stroke-width="1.4"/>
<text x="606.44" y="253.50" font-size="10.40" text-anchor="middle" font-family="Liberation Serif" font-weight="bold">0.9</text>
<path d="M632.00 237.60 L632.00 241.60" stroke="#000" stroke-width="1.4"/>
<text x="632.00" y="253.50" font-size="10.40" text-anchor="middle" font-family="Liberation Serif" font-weight="bold">1.0</text>
<text x="523.50" y="267.40" font-size="11.40" text-anchor="middle" font-family="Liberation Serif" font-weight="bold">Thickness (μm)</text>
<text transform="translate(371.20 127.60) rotate(-90)" x="0" y="0" font-size="11.6" text-anchor="middle" font-family="Liberation Serif" font-weight="bold">N<tspan font-size="7.6" dy="2.6">A</tspan><tspan dy="-2.6">(cm</tspan><tspan font-size="7.6" dy="-4.6">-3</tspan><tspan dy="4.6">)</tspan></text>
<text x="526.00" y="9.90" font-size="11.80" text-anchor="start" font-family="Liberation Serif" font-weight="bold">(b)</text>
<rect x="633.90" y="233.79" width="17.80" height="4.91" fill="#0000ff"/>
<rect x="633.90" y="229.18" width="17.80" height="4.91" fill="#0016ff"/>
<rect x="633.90" y="224.56" width="17.80" height="4.91" fill="#002bff"/>
<rect x="633.90" y="219.95" width="17.80" height="4.91" fill="#0041ff"/>
<rect x="633.90" y="215.34" width="17.80" height="4.91" fill="#0057ff"/>
<rect x="633.90" y="210.73" width="17.80" height="4.91" fill="#006dff"/>
<rect x="633.90" y="206.11" width="17.80" height="4.91" fill="#0082ff"/>
<rect x="633.90" y="201.50" width="17.80" height="4.91" fill="#0098ff"/>
<rect x="633.90" y="196.89" width="17.80" height="4.91" fill="#00aeff"/>
<rect x="633.90" y="192.28" width="17.80" height="4.91" fill="#00c3ff"/>
<rect x="633.90" y="187.66" width="17.80" height="4.91" fill="#00d9ff"/>
<rect x="633.90" y="183.05" width="17.80" height="4.91" fill="#00efff"/>
<rect x="633.90" y="178.44" width="17.80" height="4.91" fill="#00fffa"/>
<rect x="633.90" y="173.82" width="17.80" height="4.91" fill="#00ffe4"/>
<rect x="633.90" y="169.21" width="17.80" height="4.91" fill="#00ffce"/>
<rect x="633.90" y="164.60" width="17.80" height="4.91" fill="#00ffb8"/>
<rect x="633.90" y="159.99" width="17.80" height="4.91" fill="#00ffa3"/>
<rect x="633.90" y="155.38" width="17.80" height="4.91" fill="#00ff8d"/>
<rect x="633.90" y="150.76" width="17.80" height="4.91" fill="#00ff77"/>
<rect x="633.90" y="146.15" width="17.80" height="4.91" fill="#00ff62"/>
<rect x="633.90" y="141.54" width="17.80" height="4.91" fill="#00ff4c"/>
<rect x="633.90" y="136.93" width="17.80" height="4.91" fill="#00ff36"/>
<rect x="633.90" y="132.31" width="17.80" height="4.91" fill="#00ff21"/>
<rect x="633.90" y="127.70" width="17.80" height="4.91" fill="#00ff0b"/>
<rect x="633.90" y="123.09" width="17.80" height="4.91" fill="#0bff00"/>
<rect x="633.90" y="118.48" width="17.80" height="4.91" fill="#21ff00"/>
<rect x="633.90" y="113.86" width="17.80" height="4.91" fill="#36ff00"/>
<rect x="633.90" y="109.25" width="17.80" height="4.91" fill="#4cff00"/>
<rect x="633.90" y="104.64" width="17.80" height="4.91" fill="#62ff00"/>
<rect x="633.90" y="100.03" width="17.80" height="4.91" fill="#77ff00"/>
<rect x="633.90" y="95.41" width="17.80" height="4.91" fill="#8dff00"/>
<rect x="633.90" y="90.80" width="17.80" height="4.91" fill="#a3ff00"/>
<rect x="633.90" y="86.19" width="17.80" height="4.91" fill="#b8ff00"/>
<rect x="633.90" y="81.58" width="17.80" height="4.91" fill="#ceff00"/>
<rect x="633.90" y="76.96" width="17.80" height="4.91" fill="#e4ff00"/>
<rect x="633.90" y="72.35" width="17.80" height="4.91" fill="#faff00"/>
<rect x="633.90" y="67.74" width="17.80" height="4.91" fill="#ffef00"/>
<rect x="633.90" y="63.12" width="17.80" height="4.91" fill="#ffd900"/>
<rect x="633.90" y="58.51" width="17.80" height="4.91" fill="#ffc300"/>
<rect x="633.90" y="53.90" width="17.80" height="4.91" fill="#ffae00"/>
<rect x="633.90" y="49.29" width="17.80" height="4.91" fill="#ff9800"/>
<rect x="633.90" y="44.68" width="17.80" height="4.91" fill="#ff8200"/>
<rect x="633.90" y="40.06" width="17.80" height="4.91" fill="#ff6d00"/>
<rect x="633.90" y="35.45" width="17.80" height="4.91" fill="#ff5700"/>
<rect x="633.90" y="30.84" width="17.80" height="4.91" fill="#ff4100"/>
<rect x="633.90" y="26.23" width="17.80" height="4.91" fill="#ff2b00"/>
<rect x="633.90" y="21.61" width="17.80" height="4.91" fill="#ff1600"/>
<rect x="633.90" y="17.00" width="17.80" height="4.91" fill="#ff0000"/>
<rect x="633.90" y="17.00" width="17.80" height="221.40" fill="none" stroke="#000" stroke-width="1.1"/>
<path d="M651.70 17.00 L655.10 17.00" stroke="#000" stroke-width="1.3"/>
<text x="659.80" y="20.70" font-size="10.30" text-anchor="start" font-family="Liberation Serif" font-weight="bold">1.100</text>
<path d="M651.70 44.67 L655.10 44.67" stroke="#000" stroke-width="1.3"/>
<text x="659.80" y="48.38" font-size="10.30" text-anchor="start" font-family="Liberation Serif" font-weight="bold">1.093</text>
<path d="M651.70 72.35 L655.10 72.35" stroke="#000" stroke-width="1.3"/>
<text x="659.80" y="76.05" font-size="10.30" text-anchor="start" font-family="Liberation Serif" font-weight="bold">1.086</text>
<path d="M651.70 100.03 L655.10 100.03" stroke="#000" stroke-width="1.3"/>
<text x="659.80" y="103.73" font-size="10.30" text-anchor="start" font-family="Liberation Serif" font-weight="bold">1.079</text>
<path d="M651.70 127.70 L655.10 127.70" stroke="#000" stroke-width="1.3"/>
<text x="659.80" y="131.40" font-size="10.30" text-anchor="start" font-family="Liberation Serif" font-weight="bold">1.072</text>
<path d="M651.70 155.38 L655.10 155.38" stroke="#000" stroke-width="1.3"/>
<text x="659.80" y="159.07" font-size="10.30" text-anchor="start" font-family="Liberation Serif" font-weight="bold">1.065</text>
<path d="M651.70 183.05 L655.10 183.05" stroke="#000" stroke-width="1.3"/>
<text x="659.80" y="186.75" font-size="10.30" text-anchor="start" font-family="Liberation Serif" font-weight="bold">1.058</text>
<path d="M651.70 210.72 L655.10 210.72" stroke="#000" stroke-width="1.3"/>
<text x="659.80" y="214.42" font-size="10.30" text-anchor="start" font-family="Liberation Serif" font-weight="bold">1.051</text>
<path d="M651.70 238.40 L655.10 238.40" stroke="#000" stroke-width="1.3"/>
<text x="659.80" y="242.10" font-size="10.30" text-anchor="start" font-family="Liberation Serif" font-weight="bold">1.044</text>
<text x="643.00" y="9.50" font-size="11.80" text-anchor="middle" font-family="Liberation Serif" font-weight="bold">Voc (V)</text>
<g><rect x="42.20" y="298.40" width="225.20" height="217.00" fill="#0000ff"/>
<path d="M43.5 298.4L267.4 298.4L267.4 515.4L43.5 515.4L43.5 298.4Z" fill="#0016ff" fill-rule="evenodd"/>
<path d="M44.8 298.4L267.4 298.4L267.4 515.4L44.8 515.4L44.8 298.4Z" fill="#002bff" fill-rule="evenodd"/>
<path d="M46.0 298.4L267.4 298.4L267.4 515.4L46.0 515.4L46.0 298.4Z" fill="#0041ff" fill-rule="evenodd"/>
<path d="M47.0 298.4L267.4 298.4L267.4 515.4L47.0 515.4L47.0 298.4Z" fill="#0057ff" fill-rule="evenodd"/>
<path d="M48.0 298.4L267.4 298.4L267.4 515.4L48.0 515.4L48.0 298.4Z" fill="#006dff" fill-rule="evenodd"/>
<path d="M49.1 298.4L267.4 298.4L267.4 515.4L49.1 515.4L49.1 298.4Z" fill="#0082ff" fill-rule="evenodd"/>
<path d="M50.5 298.4L267.4 298.4L267.4 515.4L50.5 515.4L50.5 298.4Z" fill="#0098ff" fill-rule="evenodd"/>
<path d="M52.0 298.4L267.4 298.4L267.4 515.4L52.0 515.4L52.0 298.4Z" fill="#00aeff" fill-rule="evenodd"/>
<path d="M53.5 298.4L267.4 298.4L267.4 515.4L53.5 515.4L53.5 298.4Z" fill="#00c3ff" fill-rule="evenodd"/>
<path d="M55.0 298.4L267.4 298.4L267.4 515.4L55.0 515.4L55.0 298.4Z" fill="#00d9ff" fill-rule="evenodd"/>
<path d="M56.5 298.4L267.4 298.4L267.4 515.4L56.5 515.4L56.5 298.4Z" fill="#00efff" fill-rule="evenodd"/>
<path d="M57.9 298.4L267.4 298.4L267.4 515.4L57.9 515.4L57.9 298.4Z" fill="#00fffa" fill-rule="evenodd"/>
<path d="M59.1 298.4L267.4 298.4L267.4 515.4L59.1 515.4L59.1 298.4Z" fill="#00ffe4" fill-rule="evenodd"/>
<path d="M60.1 298.4L267.4 298.4L267.4 515.4L60.1 515.4L60.1 298.4Z" fill="#00ffce" fill-rule="evenodd"/>
<path d="M61.2 298.4L267.4 298.4L267.4 515.4L61.2 515.4L61.2 298.4Z" fill="#00ffb8" fill-rule="evenodd"/>
<path d="M62.3 298.4L267.4 298.4L267.4 515.4L62.3 515.4L62.3 298.4Z" fill="#00ffa3" fill-rule="evenodd"/>
<path d="M63.3 298.4L267.4 298.4L267.4 515.4L63.3 515.4L63.3 298.4Z" fill="#00ff8d" fill-rule="evenodd"/>
<path d="M64.5 298.4L267.4 298.4L267.4 515.4L64.5 515.4L64.5 298.4Z" fill="#00ff77" fill-rule="evenodd"/>
<path d="M66.4 298.4L267.4 298.4L267.4 515.4L66.4 515.4L66.4 298.4Z" fill="#00ff62" fill-rule="evenodd"/>
<path d="M68.4 298.4L267.4 298.4L267.4 515.4L68.4 515.4L68.4 298.4Z" fill="#00ff4c" fill-rule="evenodd"/>
<path d="M70.4 298.4L267.4 298.4L267.4 515.4L70.4 515.4L70.4 298.4Z" fill="#00ff36" fill-rule="evenodd"/>
<path d="M72.4 298.4L267.4 298.4L267.4 515.4L72.4 515.4L72.4 298.4Z" fill="#00ff21" fill-rule="evenodd"/>
<path d="M74.4 298.4L267.4 298.4L267.4 515.4L74.4 515.4L74.4 298.4Z" fill="#00ff0b" fill-rule="evenodd"/>
<path d="M76.4 298.4L267.4 298.4L267.4 515.4L76.4 515.4L76.4 298.4Z" fill="#0bff00" fill-rule="evenodd"/>
<path d="M78.5 298.4L267.4 298.4L267.4 515.4L78.5 515.4L78.5 298.4Z" fill="#21ff00" fill-rule="evenodd"/>
<path d="M80.6 298.4L267.4 298.4L267.4 515.4L80.6 515.4L80.6 298.4Z" fill="#36ff00" fill-rule="evenodd"/>
<path d="M82.7 298.4L267.4 298.4L267.4 515.4L82.7 515.4L82.7 298.4Z" fill="#4cff00" fill-rule="evenodd"/>
<path d="M84.8 298.4L267.4 298.4L267.4 515.4L84.8 515.4L84.8 298.4Z" fill="#62ff00" fill-rule="evenodd"/>
<path d="M86.9 298.4L267.4 298.4L267.4 515.4L86.9 515.4L86.9 298.4Z" fill="#77ff00" fill-rule="evenodd"/>
<path d="M89.1 298.4L267.4 298.4L267.4 515.4L89.1 515.4L89.1 298.4Z" fill="#8dff00" fill-rule="evenodd"/>
<path d="M92.7 298.4L267.4 298.4L267.4 515.4L92.7 515.4L92.7 298.4Z" fill="#a3ff00" fill-rule="evenodd"/>
<path d="M96.3 298.4L267.4 298.4L267.4 515.4L96.3 515.4L96.3 298.4Z" fill="#b8ff00" fill-rule="evenodd"/>
<path d="M100.0 298.4L267.4 298.4L267.4 515.4L100.0 515.4L100.0 298.4Z" fill="#ceff00" fill-rule="evenodd"/>
<path d="M103.7 298.4L267.4 298.4L267.4 515.4L103.7 515.4L103.7 298.4Z" fill="#e4ff00" fill-rule="evenodd"/>
<path d="M107.4 298.4L267.4 298.4L267.4 515.4L107.4 515.4L107.4 298.4Z" fill="#faff00" fill-rule="evenodd"/>
<path d="M111.1 298.4L267.4 298.4L267.4 515.4L111.1 515.4L111.1 298.4Z" fill="#ffef00" fill-rule="evenodd"/>
<path d="M116.0 298.4L267.4 298.4L267.4 515.4L116.0 515.4L116.0 298.4Z" fill="#ffd900" fill-rule="evenodd"/>
<path d="M122.0 298.4L267.4 298.4L267.4 515.4L122.0 515.4L122.0 298.4Z" fill="#ffc300" fill-rule="evenodd"/>
<path d="M128.0 298.4L267.4 298.4L267.4 515.4L128.0 515.4L128.0 298.4Z" fill="#ffae00" fill-rule="evenodd"/>
<path d="M134.0 298.4L267.4 298.4L267.4 515.4L134.0 515.4L134.0 298.4Z" fill="#ff9800" fill-rule="evenodd"/>
<path d="M141.0 298.4L267.4 298.4L267.4 515.4L141.0 515.4L141.0 298.4Z" fill="#ff8200" fill-rule="evenodd"/>
<path d="M149.3 298.4L267.4 298.4L267.4 515.4L149.3 515.4L149.3 298.4Z" fill="#ff6d00" fill-rule="evenodd"/>
<path d="M159.9 298.4L267.4 298.4L267.4 515.4L159.9 515.4L159.9 298.4Z" fill="#ff5700" fill-rule="evenodd"/>
<path d="M170.8 298.4L267.4 298.4L267.4 515.4L170.8 515.4L170.8 298.4Z" fill="#ff4100" fill-rule="evenodd"/>
<path d="M186.7 298.4L267.4 298.4L267.4 515.4L186.7 515.4L186.7 298.4Z" fill="#ff2b00" fill-rule="evenodd"/>
<path d="M206.2 298.4L267.4 298.4L267.4 515.4L206.2 515.4L206.2 298.4Z" fill="#ff1600" fill-rule="evenodd"/>
<path d="M233.1 298.4L267.4 298.4L267.4 515.4L233.1 515.4L233.1 298.4Z" fill="#ff0000" fill-rule="evenodd"/>
<path d="M49.1 515.4L49.1 298.4" fill="none" stroke="#333" stroke-opacity="0.6" stroke-width="0.6"/>
<path d="M57.9 515.4L57.9 298.4" fill="none" stroke="#333" stroke-opacity="0.6" stroke-width="0.6"/>
<path d="M64.5 515.4L64.5 298.4" fill="none" stroke="#333" stroke-opacity="0.6" stroke-width="0.6"/>
<path d="M76.4 515.4L76.4 298.4" fill="none" stroke="#333" stroke-opacity="0.6" stroke-width="0.6"/>
<path d="M89.1 515.4L89.1 298.4" fill="none" stroke="#333" stroke-opacity="0.6" stroke-width="0.6"/>
<path d="M111.1 515.4L111.1 298.4" fill="none" stroke="#333" stroke-opacity="0.6" stroke-width="0.6"/>
<path d="M149.3 515.4L149.3 298.4" fill="none" stroke="#333" stroke-opacity="0.6" stroke-width="0.6"/></g>
<rect x="42.20" y="298.40" width="225.20" height="217.00" fill="none" stroke="#000" stroke-width="1"/>
<path d="M42.20 297.70 L42.20 515.40 L267.40 515.40" fill="none" stroke="#000" stroke-width="1.5"/>
<path d="M42.20 298.40 L267.40 298.40" fill="none" stroke="#000" stroke-width="1.5"/>
<path d="M38.20 515.40 L42.20 515.40" stroke="#000" stroke-width="1.4"/>
<text x="35.80" y="519.30" font-size="11.00" text-anchor="end" font-family="Liberation Serif" font-weight="bold">10<tspan font-size="7.9" dy="-3.9">12</tspan></text>
<path d="M38.20 479.23 L42.20 479.23" stroke="#000" stroke-width="1.4"/>
<text x="35.80" y="483.13" font-size="11.00" text-anchor="end" font-family="Liberation Serif" font-weight="bold">10<tspan font-size="7.9" dy="-3.9">13</tspan></text>
<path d="M38.20 443.07 L42.20 443.07" stroke="#000" stroke-width="1.4"/>
<text x="35.80" y="446.97" font-size="11.00" text-anchor="end" font-family="Liberation Serif" font-weight="bold">10<tspan font-size="7.9" dy="-3.9">14</tspan></text>
<path d="M38.20 406.90 L42.20 406.90" stroke="#000" stroke-width="1.4"/>
<text x="35.80" y="410.80" font-size="11.00" text-anchor="end" font-family="Liberation Serif" font-weight="bold">10<tspan font-size="7.9" dy="-3.9">15</tspan></text>
<path d="M38.20 370.73 L42.20 370.73" stroke="#000" stroke-width="1.4"/>
<text x="35.80" y="374.63" font-size="11.00" text-anchor="end" font-family="Liberation Serif" font-weight="bold">10<tspan font-size="7.9" dy="-3.9">16</tspan></text>
<path d="M38.20 334.57 L42.20 334.57" stroke="#000" stroke-width="1.4"/>
<text x="35.80" y="338.47" font-size="11.00" text-anchor="end" font-family="Liberation Serif" font-weight="bold">10<tspan font-size="7.9" dy="-3.9">17</tspan></text>
<path d="M38.20 298.40 L42.20 298.40" stroke="#000" stroke-width="1.4"/>
<text x="35.80" y="302.30" font-size="11.00" text-anchor="end" font-family="Liberation Serif" font-weight="bold">10<tspan font-size="7.9" dy="-3.9">18</tspan></text>
<path d="M42.20 515.40 L42.20 519.40" stroke="#000" stroke-width="1.4"/>
<text x="42.20" y="531.00" font-size="10.40" text-anchor="middle" font-family="Liberation Serif" font-weight="bold">0.1</text>
<path d="M67.22 515.40 L67.22 519.40" stroke="#000" stroke-width="1.4"/>
<text x="67.22" y="531.00" font-size="10.40" text-anchor="middle" font-family="Liberation Serif" font-weight="bold">0.2</text>
<path d="M92.24 515.40 L92.24 519.40" stroke="#000" stroke-width="1.4"/>
<text x="92.24" y="531.00" font-size="10.40" text-anchor="middle" font-family="Liberation Serif" font-weight="bold">0.3</text>
<path d="M117.27 515.40 L117.27 519.40" stroke="#000" stroke-width="1.4"/>
<text x="117.27" y="531.00" font-size="10.40" text-anchor="middle" font-family="Liberation Serif" font-weight="bold">0.4</text>
<path d="M142.29 515.40 L142.29 519.40" stroke="#000" stroke-width="1.4"/>
<text x="142.29" y="531.00" font-size="10.40" text-anchor="middle" font-family="Liberation Serif" font-weight="bold">0.5</text>
<path d="M167.31 515.40 L167.31 519.40" stroke="#000" stroke-width="1.4"/>
<text x="167.31" y="531.00" font-size="10.40" text-anchor="middle" font-family="Liberation Serif" font-weight="bold">0.6</text>
<path d="M192.33 515.40 L192.33 519.40" stroke="#000" stroke-width="1.4"/>
<text x="192.33" y="531.00" font-size="10.40" text-anchor="middle" font-family="Liberation Serif" font-weight="bold">0.7</text>
<path d="M217.36 515.40 L217.36 519.40" stroke="#000" stroke-width="1.4"/>
<text x="217.36" y="531.00" font-size="10.40" text-anchor="middle" font-family="Liberation Serif" font-weight="bold">0.8</text>
<path d="M242.38 515.40 L242.38 519.40" stroke="#000" stroke-width="1.4"/>
<text x="242.38" y="531.00" font-size="10.40" text-anchor="middle" font-family="Liberation Serif" font-weight="bold">0.9</text>
<path d="M267.40 515.40 L267.40 519.40" stroke="#000" stroke-width="1.4"/>
<text x="267.40" y="531.00" font-size="10.40" text-anchor="middle" font-family="Liberation Serif" font-weight="bold">1.0</text>
<text x="161.60" y="546.30" font-size="11.40" text-anchor="middle" font-family="Liberation Serif" font-weight="bold">Thickness (μm)</text>
<text transform="translate(12.30 407.50) rotate(-90)" x="0" y="0" font-size="11.6" text-anchor="middle" font-family="Liberation Serif" font-weight="bold">N<tspan font-size="7.6" dy="2.6">A</tspan><tspan dy="-2.6">(cm</tspan><tspan font-size="7.6" dy="-4.6">-3</tspan><tspan dy="4.6">)</tspan></text>
<text x="161.40" y="292.60" font-size="11.80" text-anchor="start" font-family="Liberation Serif" font-weight="bold">(c)</text>
<rect x="269.70" y="510.88" width="16.90" height="4.82" fill="#0000ff"/>
<rect x="269.70" y="506.36" width="16.90" height="4.82" fill="#0016ff"/>
<rect x="269.70" y="501.84" width="16.90" height="4.82" fill="#002bff"/>
<rect x="269.70" y="497.32" width="16.90" height="4.82" fill="#0041ff"/>
<rect x="269.70" y="492.80" width="16.90" height="4.82" fill="#0057ff"/>
<rect x="269.70" y="488.27" width="16.90" height="4.82" fill="#006dff"/>
<rect x="269.70" y="483.75" width="16.90" height="4.82" fill="#0082ff"/>
<rect x="269.70" y="479.23" width="16.90" height="4.82" fill="#0098ff"/>
<rect x="269.70" y="474.71" width="16.90" height="4.82" fill="#00aeff"/>
<rect x="269.70" y="470.19" width="16.90" height="4.82" fill="#00c3ff"/>
<rect x="269.70" y="465.67" width="16.90" height="4.82" fill="#00d9ff"/>
<rect x="269.70" y="461.15" width="16.90" height="4.82" fill="#00efff"/>
<rect x="269.70" y="456.63" width="16.90" height="4.82" fill="#00fffa"/>
<rect x="269.70" y="452.11" width="16.90" height="4.82" fill="#00ffe4"/>
<rect x="269.70" y="447.59" width="16.90" height="4.82" fill="#00ffce"/>
<rect x="269.70" y="443.07" width="16.90" height="4.82" fill="#00ffb8"/>
<rect x="269.70" y="438.55" width="16.90" height="4.82" fill="#00ffa3"/>
<rect x="269.70" y="434.02" width="16.90" height="4.82" fill="#00ff8d"/>
<rect x="269.70" y="429.50" width="16.90" height="4.82" fill="#00ff77"/>
<rect x="269.70" y="424.98" width="16.90" height="4.82" fill="#00ff62"/>
<rect x="269.70" y="420.46" width="16.90" height="4.82" fill="#00ff4c"/>
<rect x="269.70" y="415.94" width="16.90" height="4.82" fill="#00ff36"/>
<rect x="269.70" y="411.42" width="16.90" height="4.82" fill="#00ff21"/>
<rect x="269.70" y="406.90" width="16.90" height="4.82" fill="#00ff0b"/>
<rect x="269.70" y="402.38" width="16.90" height="4.82" fill="#0bff00"/>
<rect x="269.70" y="397.86" width="16.90" height="4.82" fill="#21ff00"/>
<rect x="269.70" y="393.34" width="16.90" height="4.82" fill="#36ff00"/>
<rect x="269.70" y="388.82" width="16.90" height="4.82" fill="#4cff00"/>
<rect x="269.70" y="384.30" width="16.90" height="4.82" fill="#62ff00"/>
<rect x="269.70" y="379.77" width="16.90" height="4.82" fill="#77ff00"/>
<rect x="269.70" y="375.25" width="16.90" height="4.82" fill="#8dff00"/>
<rect x="269.70" y="370.73" width="16.90" height="4.82" fill="#a3ff00"/>
<rect x="269.70" y="366.21" width="16.90" height="4.82" fill="#b8ff00"/>
<rect x="269.70" y="361.69" width="16.90" height="4.82" fill="#ceff00"/>
<rect x="269.70" y="357.17" width="16.90" height="4.82" fill="#e4ff00"/>
<rect x="269.70" y="352.65" width="16.90" height="4.82" fill="#faff00"/>
<rect x="269.70" y="348.13" width="16.90" height="4.82" fill="#ffef00"/>
<rect x="269.70" y="343.61" width="16.90" height="4.82" fill="#ffd900"/>
<rect x="269.70" y="339.09" width="16.90" height="4.82" fill="#ffc300"/>
<rect x="269.70" y="334.57" width="16.90" height="4.82" fill="#ffae00"/>
<rect x="269.70" y="330.05" width="16.90" height="4.82" fill="#ff9800"/>
<rect x="269.70" y="325.52" width="16.90" height="4.82" fill="#ff8200"/>
<rect x="269.70" y="321.00" width="16.90" height="4.82" fill="#ff6d00"/>
<rect x="269.70" y="316.48" width="16.90" height="4.82" fill="#ff5700"/>
<rect x="269.70" y="311.96" width="16.90" height="4.82" fill="#ff4100"/>
<rect x="269.70" y="307.44" width="16.90" height="4.82" fill="#ff2b00"/>
<rect x="269.70" y="302.92" width="16.90" height="4.82" fill="#ff1600"/>
<rect x="269.70" y="298.40" width="16.90" height="4.82" fill="#ff0000"/>
<rect x="269.70" y="298.40" width="16.90" height="217.00" fill="none" stroke="#000" stroke-width="1.1"/>
<path d="M286.60 298.40 L290.00 298.40" stroke="#000" stroke-width="1.3"/>
<text x="294.70" y="302.10" font-size="10.30" text-anchor="start" font-family="Liberation Serif" font-weight="bold">30.85</text>
<path d="M286.60 325.52 L290.00 325.52" stroke="#000" stroke-width="1.3"/>
<text x="294.70" y="329.22" font-size="10.30" text-anchor="start" font-family="Liberation Serif" font-weight="bold">28.76</text>
<path d="M286.60 352.65 L290.00 352.65" stroke="#000" stroke-width="1.3"/>
<text x="294.70" y="356.35" font-size="10.30" text-anchor="start" font-family="Liberation Serif" font-weight="bold">26.66</text>
<path d="M286.60 379.77 L290.00 379.77" stroke="#000" stroke-width="1.3"/>
<text x="294.70" y="383.47" font-size="10.30" text-anchor="start" font-family="Liberation Serif" font-weight="bold">24.57</text>
<path d="M286.60 406.90 L290.00 406.90" stroke="#000" stroke-width="1.3"/>
<text x="294.70" y="410.60" font-size="10.30" text-anchor="start" font-family="Liberation Serif" font-weight="bold">22.48</text>
<path d="M286.60 434.02 L290.00 434.02" stroke="#000" stroke-width="1.3"/>
<text x="294.70" y="437.72" font-size="10.30" text-anchor="start" font-family="Liberation Serif" font-weight="bold">20.38</text>
<path d="M286.60 461.15 L290.00 461.15" stroke="#000" stroke-width="1.3"/>
<text x="294.70" y="464.85" font-size="10.30" text-anchor="start" font-family="Liberation Serif" font-weight="bold">18.29</text>
<path d="M286.60 488.27 L290.00 488.27" stroke="#000" stroke-width="1.3"/>
<text x="294.70" y="491.97" font-size="10.30" text-anchor="start" font-family="Liberation Serif" font-weight="bold">16.19</text>
<path d="M286.60 515.40 L290.00 515.40" stroke="#000" stroke-width="1.3"/>
<text x="294.70" y="519.10" font-size="10.30" text-anchor="start" font-family="Liberation Serif" font-weight="bold">14.10</text>
<text x="278.10" y="288.30" font-size="11.7" text-anchor="middle" font-family="Liberation Serif" font-weight="bold">J<tspan font-size="7.6" dy="3">SC</tspan><tspan dy="-3">(mA.cm</tspan><tspan font-size="7.6" dy="-4.2">-2</tspan><tspan dy="4.2">)</tspan></text>
<g><rect x="392.40" y="293.40" width="229.00" height="220.00" fill="#0000ff"/>
<path d="M392.4 293.4L621.4 293.4L621.4 359.3L607.9 359.8L604.9 360.5L599.9 361.0L583.9 361.4L578.4 362.3L576.9 363.1L570.4 364.1L568.9 364.9L565.3 365.4L560.9 367.0L558.7 367.4L561.2 371.4L567.4 379.4L588.2 403.9L614.1 436.4L621.4 444.1L621.4 513.4L392.4 513.4L392.4 293.4Z" fill="#0016ff" fill-rule="evenodd"/>
<path d="M392.4 293.4L621.4 293.4L621.4 356.4L558.7 359.4L532.0 363.4L521.7 365.4L545.0 405.4L563.9 441.4L564.6 455.4L566.4 513.4L392.4 513.4L392.4 293.4Z" fill="#002bff" fill-rule="evenodd"/>
<path d="M392.4 293.4L621.4 293.4L621.4 353.9L535.4 357.4L528.4 358.7L515.4 359.4L513.4 360.8L508.8 361.4L506.9 362.7L502.3 363.4L500.9 364.9L497.4 365.3L497.9 367.8L499.3 371.4L510.9 399.8L525.2 431.4L529.1 455.4L530.2 513.4L392.4 513.4L392.4 293.4Z" fill="#0041ff" fill-rule="evenodd"/>
<path d="M392.4 293.4L621.4 293.4L621.4 351.1L535.4 355.5L527.9 356.3L523.1 357.4L513.9 358.1L505.4 360.0L502.9 361.4L500.9 361.8L499.9 363.4L497.4 363.7L496.9 365.4L494.9 366.1L493.9 367.4L490.9 369.4L490.3 371.4L500.2 414.9L505.7 453.4L505.9 513.4L392.4 513.4L392.4 293.4Z" fill="#0057ff" fill-rule="evenodd"/>
<path d="M392.4 293.4L621.4 293.4L621.4 347.9L601.9 349.4L572.4 350.4L517.9 353.5L501.9 356.5L489.8 359.4L484.4 364.4L482.2 366.9L481.9 367.4L482.2 369.4L490.0 413.4L489.9 455.4L492.0 513.4L392.4 513.4L392.4 293.4Z" fill="#006dff" fill-rule="evenodd"/>
<path d="M392.4 293.4L621.4 293.4L621.4 339.0L598.4 339.7L593.9 340.5L587.4 341.0L555.9 341.7L552.4 342.6L546.9 343.1L525.9 343.4L520.9 344.0L518.4 345.0L507.4 345.9L504.9 347.0L497.5 347.4L493.9 348.2L492.4 349.1L489.3 349.4L486.4 350.2L485.4 351.0L481.4 351.8L480.0 352.9L476.4 353.8L474.9 354.9L472.4 355.4L470.7 356.9L468.9 357.8L467.2 359.4L460.6 367.4L464.5 389.4L471.4 419.4L476.3 454.9L476.4 513.4L392.4 513.4L392.4 293.4Z" fill="#0082ff" fill-rule="evenodd"/>
<path d="M392.4 293.4L621.4 293.4L621.4 335.8L572.4 339.6L513.4 343.0L506.9 343.6L487.9 346.8L477.9 349.4L464.8 355.4L461.4 358.2L455.2 365.4L453.9 367.4L457.7 389.4L464.3 419.4L468.9 455.4L468.9 513.4L392.4 513.4L392.4 293.4Z" fill="#0098ff" fill-rule="evenodd"/>
<path d="M392.4 293.4L621.4 293.4L621.4 333.3L551.8 339.4L511.4 342.0L495.8 343.4L474.9 347.4L469.3 349.4L457.9 355.4L455.5 357.4L451.9 361.4L447.5 367.4L451.3 389.4L457.7 419.4L461.3 451.4L461.6 455.4L461.6 513.4L392.4 513.4L392.4 293.4Z" fill="#00aeff" fill-rule="evenodd"/>
<path d="M392.4 293.4L621.4 293.4L621.4 330.8L583.4 333.8L528.4 339.4L495.9 342.0L483.2 343.4L465.6 347.4L460.7 349.4L451.1 355.4L445.4 361.4L441.2 367.4L445.0 389.4L451.0 419.4L453.9 449.4L454.3 455.4L454.3 513.4L392.4 513.4L392.4 293.4Z" fill="#00c3ff" fill-rule="evenodd"/>
<path d="M392.4 293.4L621.4 293.4L621.4 328.3L586.4 331.4L554.4 333.4L474.4 342.8L468.9 343.8L456.1 347.4L452.1 349.4L444.4 355.2L438.9 361.4L435.9 365.4L434.8 367.4L444.5 421.4L447.0 455.4L447.0 513.4L392.4 513.4L392.4 293.4Z" fill="#00d9ff" fill-rule="evenodd"/>
<path d="M392.4 293.4L621.4 293.4L621.4 325.7L558.2 331.4L521.5 333.4L515.4 334.2L461.9 342.5L457.4 343.6L448.4 346.7L443.5 349.4L435.6 357.4L429.4 365.4L428.5 367.4L437.8 421.4L439.7 453.4L439.7 513.4L392.4 513.4L392.4 293.4Z" fill="#00efff" fill-rule="evenodd"/>
<path d="M392.4 293.4L621.4 293.4L621.4 323.2L522.9 332.1L488.7 333.4L484.9 334.7L476.9 335.4L473.4 336.7L465.9 337.4L463.4 338.7L458.3 339.4L455.4 340.7L450.4 341.4L448.9 342.5L445.5 343.4L443.9 344.5L437.3 347.4L435.0 349.4L423.0 365.4L422.2 367.4L431.1 421.4L432.4 449.4L432.4 513.4L392.4 513.4L392.4 293.4Z" fill="#00fffa" fill-rule="evenodd"/>
<path d="M392.4 293.4L621.4 293.4L621.4 320.2L517.0 331.4L481.6 333.4L460.9 337.3L445.6 341.4L440.4 343.4L433.1 347.4L431.0 349.4L428.4 352.9L420.0 365.4L419.3 367.4L423.1 389.4L427.6 421.4L428.8 449.4L428.8 513.4L392.4 513.4L392.4 293.4Z" fill="#00ffe4" fill-rule="evenodd"/>
<path d="M392.4 293.4L621.4 293.4L621.4 317.2L588.9 320.4L503.9 331.4L486.9 332.3L474.6 333.4L456.4 337.2L440.7 341.4L435.6 343.4L429.0 347.4L427.0 349.4L424.4 353.1L417.1 365.4L416.5 367.4L420.3 389.4L424.1 421.4L425.1 449.4L425.2 513.4L392.4 513.4L392.4 293.4Z" fill="#00ffce" fill-rule="evenodd"/>
<path d="M392.4 293.4L621.4 293.4L621.4 314.1L592.4 316.4L566.9 319.2L490.9 331.4L477.4 332.3L467.6 333.4L451.4 337.1L435.9 341.4L430.6 343.4L424.9 347.4L423.0 349.4L420.3 353.4L414.2 365.4L413.7 367.4L417.4 389.4L420.5 419.4L421.5 449.4L421.5 513.4L392.4 513.4L392.4 293.4Z" fill="#00ffb8" fill-rule="evenodd"/>
<path d="M392.4 293.4L621.4 293.4L621.4 311.1L572.9 314.4L551.4 316.7L532.6 319.4L477.9 331.4L465.9 332.5L457.4 334.1L431.1 341.4L425.7 343.4L421.4 346.9L417.5 351.4L416.5 353.4L411.3 365.4L410.8 367.4L414.6 389.4L417.0 419.4L417.9 449.4L417.9 513.4L392.4 513.4L392.4 293.4Z" fill="#00ffa3" fill-rule="evenodd"/>
<path d="M392.4 293.4L621.4 293.4L621.4 308.1L584.9 309.8L554.4 311.7L534.9 313.6L513.9 316.7L500.2 319.4L472.0 329.4L464.9 331.4L454.9 333.0L427.9 340.9L420.8 343.4L416.8 347.4L413.6 351.4L408.5 364.9L408.0 367.4L411.8 389.4L413.5 419.4L414.3 449.4L414.3 513.4L392.4 513.4L392.4 293.4Z" fill="#00ff8d" fill-rule="evenodd"/>
<path d="M392.4 293.4L621.4 293.4L621.4 305.2L609.9 305.5L589.4 306.7L552.4 307.5L542.4 308.7L520.9 309.5L515.4 310.7L501.5 311.4L495.9 312.8L487.6 313.4L484.4 314.9L479.9 315.6L477.9 316.8L473.8 317.4L471.0 318.9L467.8 319.4L457.1 328.9L453.9 330.8L443.4 334.6L415.9 343.4L409.6 351.4L405.9 363.7L405.2 367.4L409.1 391.4L410.7 449.4L410.7 513.4L392.4 513.4L392.4 293.4Z" fill="#00ff77" fill-rule="evenodd"/>
<path d="M392.4 293.4L621.4 293.4L621.4 303.5L577.9 305.7L547.4 306.8L520.4 308.4L497.4 310.5L480.4 313.0L475.4 314.3L461.2 319.4L450.3 329.4L446.2 331.4L436.2 335.4L413.4 343.4L407.4 351.4L406.4 353.4L405.1 357.9L403.3 367.4L406.7 391.4L408.1 449.4L408.2 513.4L392.4 513.4L392.4 293.4Z" fill="#00ff62" fill-rule="evenodd"/>
<path d="M392.4 293.4L621.4 293.4L621.4 301.9L513.9 307.7L490.6 309.9L474.9 312.3L469.4 313.6L455.4 319.4L444.9 329.4L436.5 333.4L411.1 343.4L405.2 351.4L404.2 353.4L402.9 357.4L401.5 367.4L404.2 389.4L404.7 403.4L405.6 449.4L405.6 513.4L392.4 513.4L392.4 293.4Z" fill="#00ff4c" fill-rule="evenodd"/>
<path d="M392.4 293.4L621.4 293.4L621.4 300.3L575.4 302.4L508.9 306.7L487.4 308.7L469.9 311.4L461.7 313.4L451.4 318.3L449.5 319.4L439.4 329.4L427.1 335.4L408.7 343.4L403.0 351.4L401.0 355.4L399.6 367.4L401.8 389.4L402.3 403.4L403.1 449.4L403.1 513.4L392.4 513.4L392.4 293.4Z" fill="#00ff36" fill-rule="evenodd"/>
<path d="M392.4 293.4L621.4 293.4L621.4 298.7L574.4 300.5L535.9 302.8L487.9 306.9L474.9 308.5L463.9 310.4L456.9 312.2L452.4 314.0L443.6 319.4L436.2 327.4L433.9 329.4L406.4 343.4L400.8 351.4L398.6 355.4L397.8 365.4L399.4 389.4L400.2 419.4L400.6 449.4L400.6 513.4L392.4 513.4L392.4 293.4Z" fill="#00ff21" fill-rule="evenodd"/>
<path d="M392.4 293.4L621.4 293.4L621.4 297.1L568.9 298.7L523.4 301.1L493.4 303.7L471.4 306.5L459.9 308.5L450.9 310.9L445.1 313.4L437.8 319.4L430.8 327.4L428.4 329.4L424.3 331.4L414.7 337.4L404.1 343.4L396.3 355.4L395.9 357.4L395.9 367.4L397.1 391.4L397.7 421.4L398.1 449.4L398.1 513.4L392.4 513.4L392.4 293.4Z" fill="#00ff0b" fill-rule="evenodd"/>
<path d="M392.4 293.4L621.4 293.4L621.4 295.5L589.4 296.7L539.4 297.4L526.9 298.6L505.7 299.4L496.9 300.7L481.8 301.4L475.9 302.7L465.2 303.4L461.9 304.7L455.5 305.4L453.4 306.6L448.9 307.4L446.9 308.6L443.4 309.4L441.9 310.5L439.3 311.4L436.9 313.4L424.4 328.5L421.4 330.5L418.8 331.4L411.9 336.7L401.7 343.4L393.9 355.4L393.5 357.4L394.9 399.4L395.4 434.6L395.5 513.4L392.4 513.4L392.4 293.4Z" fill="#0bff00" fill-rule="evenodd"/>
<path d="M392.4 293.4L621.4 293.4L621.4 293.9L594.4 295.4L538.9 296.8L505.4 298.4L474.4 301.2L460.9 302.9L451.9 304.8L441.4 308.4L435.1 311.4L432.7 313.4L422.3 327.4L420.2 329.4L416.3 331.4L399.9 343.0L392.4 353.6L392.4 293.4Z" fill="#21ff00" fill-rule="evenodd"/>
<path d="M392.4 293.4L601.0 293.4L568.0 295.4L526.9 296.5L498.2 297.9L467.9 300.8L455.9 302.5L447.9 304.2L440.4 306.8L430.9 311.4L428.6 313.4L419.4 327.4L417.5 329.4L407.5 335.4L399.9 341.0L397.2 343.4L392.4 350.3L392.4 293.4Z" fill="#36ff00" fill-rule="evenodd"/>
<path d="M392.4 293.4L570.5 293.4L540.4 295.4L508.4 296.4L485.4 297.7L459.4 300.5L449.9 302.1L443.4 303.6L436.4 306.2L426.7 311.4L424.4 313.4L416.4 327.4L414.8 329.4L401.4 337.4L395.8 342.4L392.4 347.0L392.4 293.4Z" fill="#4cff00" fill-rule="evenodd"/>
<path d="M392.4 293.4L539.9 293.4L512.8 295.4L489.4 296.3L471.4 297.5L449.4 300.5L436.9 303.4L432.9 305.2L426.4 308.9L422.5 311.4L420.3 313.4L412.2 329.4L398.3 337.4L394.9 340.6L392.4 343.7L392.4 293.4Z" fill="#62ff00" fill-rule="evenodd"/>
<path d="M392.4 293.4L509.4 293.4L455.9 297.4L439.4 300.4L431.4 302.7L427.5 304.9L418.4 311.3L416.1 313.4L409.5 329.4L395.2 337.4L392.4 340.4L392.4 293.4Z" fill="#77ff00" fill-rule="evenodd"/>
<path d="M392.4 293.4L478.8 293.4L471.4 294.7L456.9 295.4L450.4 296.7L439.2 297.4L436.4 298.8L432.4 299.5L429.9 300.7L426.2 301.4L424.9 302.6L422.9 303.4L418.4 308.3L412.0 313.4L406.7 329.4L403.7 331.4L392.4 337.2L392.4 293.4Z" fill="#8dff00" fill-rule="evenodd"/>
<path d="M392.4 293.4L470.2 293.4L437.4 297.0L435.3 297.4L423.3 301.4L420.0 303.4L416.5 307.4L409.8 313.4L405.6 324.4L402.7 329.4L392.4 334.9L392.4 293.4Z" fill="#a3ff00" fill-rule="evenodd"/>
<path d="M392.4 293.4L462.1 293.4L433.9 297.0L430.3 297.9L420.6 301.4L417.3 303.4L413.9 307.4L407.8 313.4L403.4 323.4L400.4 327.7L398.6 329.4L392.4 332.7L392.4 293.4Z" fill="#b8ff00" fill-rule="evenodd"/>
<path d="M392.4 293.4L454.1 293.4L434.4 296.2L428.4 297.4L419.0 300.9L414.5 303.4L405.7 313.4L400.8 323.4L399.3 325.4L396.0 328.4L392.4 330.5L392.4 293.4Z" fill="#ceff00" fill-rule="evenodd"/>
<path d="M392.4 293.4L446.1 293.4L425.4 297.2L416.9 300.6L411.7 303.4L403.6 313.4L398.1 323.4L395.8 325.9L392.4 328.4L392.4 293.4Z" fill="#e4ff00" fill-rule="evenodd"/>
<path d="M392.4 293.4L438.0 293.4L421.3 297.4L414.4 300.4L409.0 303.4L401.5 313.4L395.4 323.4L392.4 326.2L392.4 293.4Z" fill="#faff00" fill-rule="evenodd"/>
<path d="M392.4 293.4L430.1 293.4L417.8 297.4L406.2 303.4L392.4 323.8L392.4 293.4Z" fill="#ffef00" fill-rule="evenodd"/>
<path d="M392.4 293.4L426.2 293.4L414.5 297.4L409.9 299.6L403.6 303.4L392.4 320.2L392.4 293.4Z" fill="#ffd900" fill-rule="evenodd"/>
<path d="M392.4 293.4L422.4 293.4L411.1 297.4L406.4 299.9L401.4 303.1L392.4 316.4L392.4 293.4Z" fill="#ffc300" fill-rule="evenodd"/>
<path d="M392.4 293.4L418.6 293.4L407.8 297.4L400.4 301.8L398.5 303.4L392.4 312.6L392.4 293.4Z" fill="#ffae00" fill-rule="evenodd"/>
<path d="M392.4 293.4L414.7 293.4L404.5 297.4L398.9 300.8L396.0 303.4L392.4 308.7L392.4 293.4Z" fill="#ff9800" fill-rule="evenodd"/>
<path d="M392.4 293.4L410.9 293.4L404.4 295.9L399.9 298.1L395.1 301.4L392.4 304.9L392.4 293.4Z" fill="#ff8200" fill-rule="evenodd"/>
<path d="M392.4 293.4L407.1 293.4L397.8 297.4L392.4 301.3L392.4 293.4Z" fill="#ff6d00" fill-rule="evenodd"/>
<path d="M392.4 293.4L404.6 293.4L397.4 296.5L392.4 299.8L392.4 293.4Z" fill="#ff5700" fill-rule="evenodd"/>
<path d="M392.4 293.4L402.2 293.4L396.6 295.9L392.4 298.5L392.4 293.4Z" fill="#ff4100" fill-rule="evenodd"/>
<path d="M392.4 293.4L399.7 293.4L392.4 297.2L392.4 293.4Z" fill="#ff2b00" fill-rule="evenodd"/>
<path d="M392.4 293.4L397.3 293.4L392.4 295.9L392.4 293.4Z" fill="#ff1600" fill-rule="evenodd"/>
<path d="M392.4 293.4L394.8 293.4L392.4 294.7L392.4 293.4Z" fill="#ff0000" fill-rule="evenodd"/>
<path d="M621.4 339.0L598.4 339.7L593.9 340.5L587.4 341.0L555.9 341.7L552.4 342.6L546.9 343.1L525.9 343.4L520.9 344.0L518.4 345.0L507.4 345.9L504.9 347.0L497.5 347.4L494.4 348.1L492.4 349.1L488.4 349.6L486.4 350.2L485.4 351.0L481.4 351.8L480.0 352.9L477.5 353.4L475.0 354.9L471.9 355.7L470.7 356.9L468.9 357.8L465.3 361.4L460.6 367.4L464.5 389.4L471.4 419.4L476.3 454.9L476.4 513.4" fill="none" stroke="#333" stroke-opacity="0.6" stroke-width="0.6"/>
<path d="M621.4 323.2L522.9 332.1L488.7 333.4L484.9 334.7L476.9 335.4L473.4 336.7L465.9 337.4L463.4 338.7L458.3 339.4L455.4 340.7L450.4 341.4L448.9 342.5L445.5 343.4L443.9 344.5L437.3 347.4L435.0 349.4L423.0 365.4L422.2 367.4L431.1 421.4L432.4 449.4L432.4 513.4" fill="none" stroke="#333" stroke-opacity="0.6" stroke-width="0.6"/>
<path d="M621.4 305.2L609.9 305.5L589.4 306.7L552.4 307.5L542.4 308.7L520.9 309.5L515.4 310.7L501.5 311.4L495.9 312.8L487.6 313.4L484.4 314.9L479.9 315.6L477.9 316.8L473.8 317.4L471.0 318.9L467.8 319.4L457.1 328.9L453.9 330.8L443.4 334.6L415.9 343.4L409.6 351.4L405.9 363.7L405.2 367.4L409.1 391.4L410.7 449.4L410.7 513.4" fill="none" stroke="#333" stroke-opacity="0.6" stroke-width="0.6"/>
<path d="M621.4 295.5L589.4 296.7L539.4 297.4L526.9 298.6L505.7 299.4L496.9 300.7L481.8 301.4L475.9 302.7L465.2 303.4L461.9 304.7L455.5 305.4L453.4 306.6L448.9 307.4L446.9 308.6L443.4 309.4L441.9 310.5L439.3 311.4L436.9 313.4L424.4 328.5L421.4 330.5L418.8 331.4L411.9 336.7L401.7 343.4L393.9 355.4L393.5 357.4L394.9 399.4L395.4 434.6L395.5 513.4" fill="none" stroke="#333" stroke-opacity="0.6" stroke-width="0.6"/>
<path d="M478.8 293.4L471.4 294.7L456.9 295.4L450.4 296.7L439.2 297.4L436.4 298.8L432.4 299.5L429.9 300.7L426.2 301.4L424.9 302.6L422.9 303.4L418.4 308.3L412.0 313.4L406.7 329.4L403.7 331.4L392.4 337.2" fill="none" stroke="#333" stroke-opacity="0.6" stroke-width="0.6"/>
<path d="M430.1 293.4L417.8 297.4L406.2 303.4L392.4 323.8" fill="none" stroke="#333" stroke-opacity="0.6" stroke-width="0.6"/>
<path d="M407.1 293.4L397.8 297.4L392.4 301.3" fill="none" stroke="#333" stroke-opacity="0.6" stroke-width="0.6"/></g>
<rect x="392.40" y="293.40" width="229.00" height="220.00" fill="none" stroke="#000" stroke-width="1"/>
<path d="M392.40 292.70 L392.40 513.40 L621.40 513.40" fill="none" stroke="#000" stroke-width="1.5"/>
<path d="M392.40 293.40 L621.40 293.40" fill="none" stroke="#000" stroke-width="1.5"/>
<path d="M388.40 513.40 L392.40 513.40" stroke="#000" stroke-width="1.4"/>
<text x="385.90" y="517.30" font-size="11.00" text-anchor="end" font-family="Liberation Serif" font-weight="bold">10<tspan font-size="7.9" dy="-3.9">12</tspan></text>
<path d="M388.40 476.73 L392.40 476.73" stroke="#000" stroke-width="1.4"/>
<text x="385.90" y="480.63" font-size="11.00" text-anchor="end" font-family="Liberation Serif" font-weight="bold">10<tspan font-size="7.9" dy="-3.9">13</tspan></text>
<path d="M388.40 440.07 L392.40 440.07" stroke="#000" stroke-width="1.4"/>
<text x="385.90" y="443.97" font-size="11.00" text-anchor="end" font-family="Liberation Serif" font-weight="bold">10<tspan font-size="7.9" dy="-3.9">14</tspan></text>
<path d="M388.40 403.40 L392.40 403.40" stroke="#000" stroke-width="1.4"/>
<text x="385.90" y="407.30" font-size="11.00" text-anchor="end" font-family="Liberation Serif" font-weight="bold">10<tspan font-size="7.9" dy="-3.9">15</tspan></text>
<path d="M388.40 366.73 L392.40 366.73" stroke="#000" stroke-width="1.4"/>
<text x="385.90" y="370.63" font-size="11.00" text-anchor="end" font-family="Liberation Serif" font-weight="bold">10<tspan font-size="7.9" dy="-3.9">16</tspan></text>
<path d="M388.40 330.07 L392.40 330.07" stroke="#000" stroke-width="1.4"/>
<text x="385.90" y="333.97" font-size="11.00" text-anchor="end" font-family="Liberation Serif" font-weight="bold">10<tspan font-size="7.9" dy="-3.9">17</tspan></text>
<path d="M388.40 293.40 L392.40 293.40" stroke="#000" stroke-width="1.4"/>
<text x="385.90" y="297.30" font-size="11.00" text-anchor="end" font-family="Liberation Serif" font-weight="bold">10<tspan font-size="7.9" dy="-3.9">18</tspan></text>
<path d="M392.40 513.40 L392.40 517.40" stroke="#000" stroke-width="1.4"/>
<text x="392.40" y="529.00" font-size="10.40" text-anchor="middle" font-family="Liberation Serif" font-weight="bold">0.1</text>
<path d="M417.84 513.40 L417.84 517.40" stroke="#000" stroke-width="1.4"/>
<text x="417.84" y="529.00" font-size="10.40" text-anchor="middle" font-family="Liberation Serif" font-weight="bold">0.2</text>
<path d="M443.29 513.40 L443.29 517.40" stroke="#000" stroke-width="1.4"/>
<text x="443.29" y="529.00" font-size="10.40" text-anchor="middle" font-family="Liberation Serif" font-weight="bold">0.3</text>
<path d="M468.73 513.40 L468.73 517.40" stroke="#000" stroke-width="1.4"/>
<text x="468.73" y="529.00" font-size="10.40" text-anchor="middle" font-family="Liberation Serif" font-weight="bold">0.4</text>
<path d="M494.18 513.40 L494.18 517.40" stroke="#000" stroke-width="1.4"/>
<text x="494.18" y="529.00" font-size="10.40" text-anchor="middle" font-family="Liberation Serif" font-weight="bold">0.5</text>
<path d="M519.62 513.40 L519.62 517.40" stroke="#000" stroke-width="1.4"/>
<text x="519.62" y="529.00" font-size="10.40" text-anchor="middle" font-family="Liberation Serif" font-weight="bold">0.6</text>
<path d="M545.07 513.40 L545.07 517.40" stroke="#000" stroke-width="1.4"/>
<text x="545.07" y="529.00" font-size="10.40" text-anchor="middle" font-family="Liberation Serif" font-weight="bold">0.7</text>
<path d="M570.51 513.40 L570.51 517.40" stroke="#000" stroke-width="1.4"/>
<text x="570.51" y="529.00" font-size="10.40" text-anchor="middle" font-family="Liberation Serif" font-weight="bold">0.8</text>
<path d="M595.96 513.40 L595.96 517.40" stroke="#000" stroke-width="1.4"/>
<text x="595.96" y="529.00" font-size="10.40" text-anchor="middle" font-family="Liberation Serif" font-weight="bold">0.9</text>
<path d="M621.40 513.40 L621.40 517.40" stroke="#000" stroke-width="1.4"/>
<text x="621.40" y="529.00" font-size="10.40" text-anchor="middle" font-family="Liberation Serif" font-weight="bold">1.0</text>
<text x="512.90" y="544.60" font-size="11.40" text-anchor="middle" font-family="Liberation Serif" font-weight="bold">Thickness (μm)</text>
<text transform="translate(360.70 406.40) rotate(-90)" x="0" y="0" font-size="11.6" text-anchor="middle" font-family="Liberation Serif" font-weight="bold">N<tspan font-size="7.6" dy="2.6">A</tspan><tspan dy="-2.6">(cm</tspan><tspan font-size="7.6" dy="-4.6">-3</tspan><tspan dy="4.6">)</tspan></text>
<text x="510.00" y="288.80" font-size="11.80" text-anchor="start" font-family="Liberation Serif" font-weight="bold">(d)</text>
<rect x="624.00" y="510.00" width="17.50" height="4.90" fill="#0000ff"/>
<rect x="624.00" y="505.41" width="17.50" height="4.90" fill="#0016ff"/>
<rect x="624.00" y="500.81" width="17.50" height="4.90" fill="#002bff"/>
<rect x="624.00" y="496.22" width="17.50" height="4.90" fill="#0041ff"/>
<rect x="624.00" y="491.62" width="17.50" height="4.90" fill="#0057ff"/>
<rect x="624.00" y="487.03" width="17.50" height="4.90" fill="#006dff"/>
<rect x="624.00" y="482.43" width="17.50" height="4.90" fill="#0082ff"/>
<rect x="624.00" y="477.83" width="17.50" height="4.90" fill="#0098ff"/>
<rect x="624.00" y="473.24" width="17.50" height="4.90" fill="#00aeff"/>
<rect x="624.00" y="468.64" width="17.50" height="4.90" fill="#00c3ff"/>
<rect x="624.00" y="464.05" width="17.50" height="4.90" fill="#00d9ff"/>
<rect x="624.00" y="459.45" width="17.50" height="4.90" fill="#00efff"/>
<rect x="624.00" y="454.85" width="17.50" height="4.90" fill="#00fffa"/>
<rect x="624.00" y="450.26" width="17.50" height="4.90" fill="#00ffe4"/>
<rect x="624.00" y="445.66" width="17.50" height="4.90" fill="#00ffce"/>
<rect x="624.00" y="441.07" width="17.50" height="4.90" fill="#00ffb8"/>
<rect x="624.00" y="436.47" width="17.50" height="4.90" fill="#00ffa3"/>
<rect x="624.00" y="431.88" width="17.50" height="4.90" fill="#00ff8d"/>
<rect x="624.00" y="427.28" width="17.50" height="4.90" fill="#00ff77"/>
<rect x="624.00" y="422.68" width="17.50" height="4.90" fill="#00ff62"/>
<rect x="624.00" y="418.09" width="17.50" height="4.90" fill="#00ff4c"/>
<rect x="624.00" y="413.49" width="17.50" height="4.90" fill="#00ff36"/>
<rect x="624.00" y="408.90" width="17.50" height="4.90" fill="#00ff21"/>
<rect x="624.00" y="404.30" width="17.50" height="4.90" fill="#00ff0b"/>
<rect x="624.00" y="399.70" width="17.50" height="4.90" fill="#0bff00"/>
<rect x="624.00" y="395.11" width="17.50" height="4.90" fill="#21ff00"/>
<rect x="624.00" y="390.51" width="17.50" height="4.90" fill="#36ff00"/>
<rect x="624.00" y="385.92" width="17.50" height="4.90" fill="#4cff00"/>
<rect x="624.00" y="381.32" width="17.50" height="4.90" fill="#62ff00"/>
<rect x="624.00" y="376.73" width="17.50" height="4.90" fill="#77ff00"/>
<rect x="624.00" y="372.13" width="17.50" height="4.90" fill="#8dff00"/>
<rect x="624.00" y="367.53" width="17.50" height="4.90" fill="#a3ff00"/>
<rect x="624.00" y="362.94" width="17.50" height="4.90" fill="#b8ff00"/>
<rect x="624.00" y="358.34" width="17.50" height="4.90" fill="#ceff00"/>
<rect x="624.00" y="353.75" width="17.50" height="4.90" fill="#e4ff00"/>
<rect x="624.00" y="349.15" width="17.50" height="4.90" fill="#faff00"/>
<rect x="624.00" y="344.55" width="17.50" height="4.90" fill="#ffef00"/>
<rect x="624.00" y="339.96" width="17.50" height="4.90" fill="#ffd900"/>
<rect x="624.00" y="335.36" width="17.50" height="4.90" fill="#ffc300"/>
<rect x="624.00" y="330.77" width="17.50" height="4.90" fill="#ffae00"/>
<rect x="624.00" y="326.17" width="17.50" height="4.90" fill="#ff9800"/>
<rect x="624.00" y="321.57" width="17.50" height="4.90" fill="#ff8200"/>
<rect x="624.00" y="316.98" width="17.50" height="4.90" fill="#ff6d00"/>
<rect x="624.00" y="312.38" width="17.50" height="4.90" fill="#ff5700"/>
<rect x="624.00" y="307.79" width="17.50" height="4.90" fill="#ff4100"/>
<rect x="624.00" y="303.19" width="17.50" height="4.90" fill="#ff2b00"/>
<rect x="624.00" y="298.60" width="17.50" height="4.90" fill="#ff1600"/>
<rect x="624.00" y="294.00" width="17.50" height="4.90" fill="#ff0000"/>
<rect x="624.00" y="294.00" width="17.50" height="220.60" fill="none" stroke="#000" stroke-width="1.1"/>
<path d="M641.50 294.00 L644.90 294.00" stroke="#000" stroke-width="1.3"/>
<text x="649.60" y="297.70" font-size="10.30" text-anchor="start" font-family="Liberation Serif" font-weight="bold">83.60</text>
<path d="M641.50 321.57 L644.90 321.57" stroke="#000" stroke-width="1.3"/>
<text x="649.60" y="325.27" font-size="10.30" text-anchor="start" font-family="Liberation Serif" font-weight="bold">82.48</text>
<path d="M641.50 349.15 L644.90 349.15" stroke="#000" stroke-width="1.3"/>
<text x="649.60" y="352.85" font-size="10.30" text-anchor="start" font-family="Liberation Serif" font-weight="bold">81.35</text>
<path d="M641.50 376.73 L644.90 376.73" stroke="#000" stroke-width="1.3"/>
<text x="649.60" y="380.43" font-size="10.30" text-anchor="start" font-family="Liberation Serif" font-weight="bold">80.23</text>
<path d="M641.50 404.30 L644.90 404.30" stroke="#000" stroke-width="1.3"/>
<text x="649.60" y="408.00" font-size="10.30" text-anchor="start" font-family="Liberation Serif" font-weight="bold">79.10</text>
<path d="M641.50 431.88 L644.90 431.88" stroke="#000" stroke-width="1.3"/>
<text x="649.60" y="435.57" font-size="10.30" text-anchor="start" font-family="Liberation Serif" font-weight="bold">77.98</text>
<path d="M641.50 459.45 L644.90 459.45" stroke="#000" stroke-width="1.3"/>
<text x="649.60" y="463.15" font-size="10.30" text-anchor="start" font-family="Liberation Serif" font-weight="bold">76.85</text>
<path d="M641.50 487.03 L644.90 487.03" stroke="#000" stroke-width="1.3"/>
<text x="649.60" y="490.73" font-size="10.30" text-anchor="start" font-family="Liberation Serif" font-weight="bold">75.73</text>
<path d="M641.50 514.60 L644.90 514.60" stroke="#000" stroke-width="1.3"/>
<text x="649.60" y="518.30" font-size="10.30" text-anchor="start" font-family="Liberation Serif" font-weight="bold">74.60</text>
<text x="632.70" y="288.60" font-size="11.80" text-anchor="middle" font-family="Liberation Serif" font-weight="bold">FF (%)</text>
</svg></body></html>
